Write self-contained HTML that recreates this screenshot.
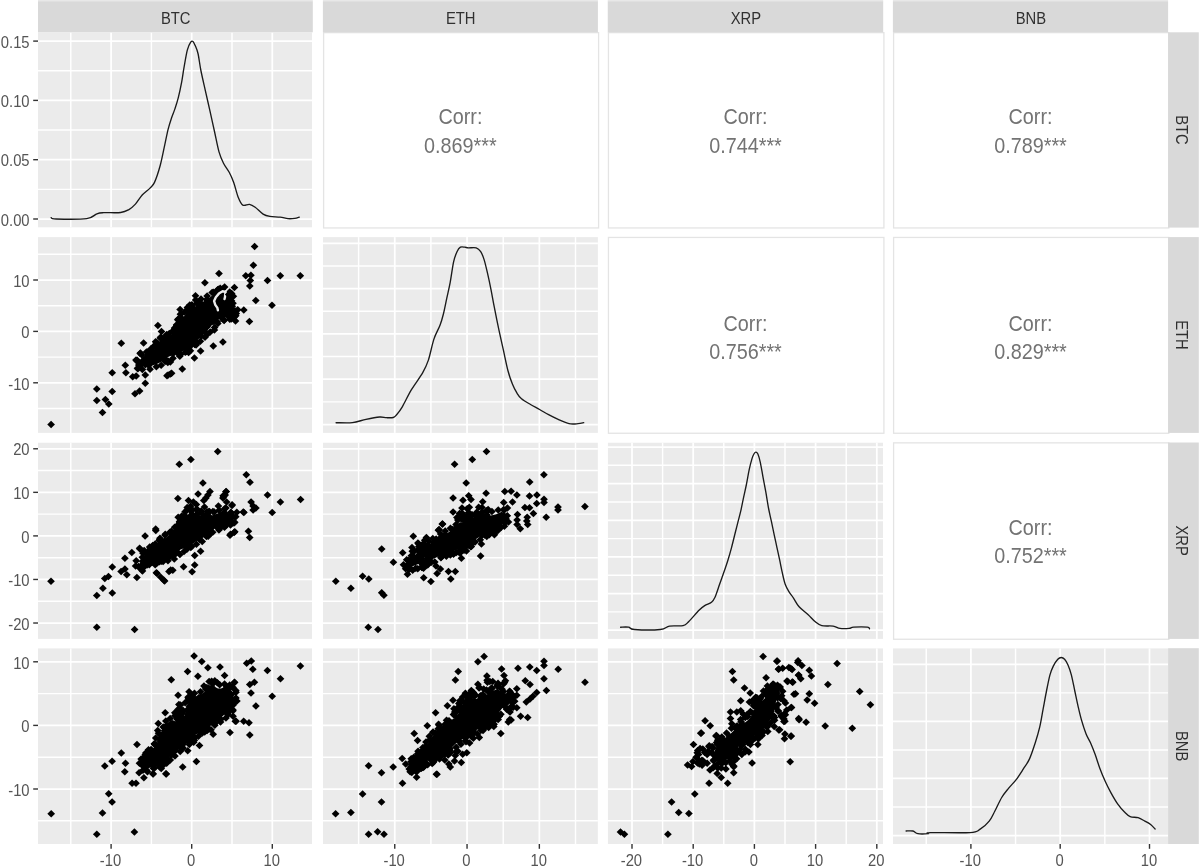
<!DOCTYPE html>
<html><head><meta charset="utf-8"><title>ggpairs</title><style>
html,body{margin:0;padding:0;background:#fff;}
body{width:1200px;height:866px;overflow:hidden;}
svg{display:block;}
#root{will-change:transform;}
.st{font-family:"Liberation Sans",sans-serif;font-size:14.8px;fill:#303030;}
.ax{font-family:"Liberation Sans",sans-serif;font-size:14.8px;fill:#555555;}
.ct{font-family:"Liberation Sans",sans-serif;font-size:19.8px;fill:#737373;}
</style></head><body>
<svg id="root" width="1200" height="866" viewBox="0 0 1200 866" shape-rendering="geometricPrecision">
<rect x="0" y="0" width="1200" height="866" fill="#ffffff"/>
<defs><path id="d" d="M0,-3.75L3.85,0L0,3.75L-3.85,0Z"/></defs>
<svg x="38" y="32.3" width="274" height="195.3" viewBox="38 32.3 274 195.3" overflow="hidden">
<rect x="38" y="32.3" width="274" height="195.3" fill="#ebebeb"/>
<line x1="38" x2="312" y1="189.35" y2="189.35" stroke="#fff" stroke-width="1.45"/>
<line x1="38" x2="312" y1="130.05" y2="130.05" stroke="#fff" stroke-width="1.45"/>
<line x1="38" x2="312" y1="70.75" y2="70.75" stroke="#fff" stroke-width="1.45"/>
<line x1="38" x2="312" y1="219" y2="219" stroke="#fff" stroke-width="1.75"/>
<line x1="38" x2="312" y1="159.7" y2="159.7" stroke="#fff" stroke-width="1.75"/>
<line x1="38" x2="312" y1="100.4" y2="100.4" stroke="#fff" stroke-width="1.75"/>
<line x1="38" x2="312" y1="41.1" y2="41.1" stroke="#fff" stroke-width="1.75"/>
<line x1="70.8" x2="70.8" y1="32.3" y2="227.6" stroke="#fff" stroke-width="1.45"/>
<line x1="151.4" x2="151.4" y1="32.3" y2="227.6" stroke="#fff" stroke-width="1.45"/>
<line x1="232" x2="232" y1="32.3" y2="227.6" stroke="#fff" stroke-width="1.45"/>
<line x1="111.1" x2="111.1" y1="32.3" y2="227.6" stroke="#fff" stroke-width="1.75"/>
<line x1="191.7" x2="191.7" y1="32.3" y2="227.6" stroke="#fff" stroke-width="1.75"/>
<line x1="272.3" x2="272.3" y1="32.3" y2="227.6" stroke="#fff" stroke-width="1.75"/>
<path d="M51.1,217.7 C51.93,217.92 50.17,218.85 56.1,219 C62.03,219.15 79.9,219.47 86.7,218.6 C93.5,217.73 94.07,214.78 96.9,213.8 C99.73,212.82 99.73,212.92 103.7,212.7 C107.67,212.48 116.55,212.98 120.7,212.5 C124.85,212.02 126.15,211.2 128.6,209.8 C131.05,208.4 133.13,206.57 135.4,204.1 C137.67,201.63 139.77,197.67 142.2,195 C144.63,192.33 147.95,190.2 150,188.1 C152.05,186 152.8,186.17 154.5,182.4 C156.2,178.63 158.5,171.72 160.2,165.5 C161.9,159.28 163.38,151.13 164.7,145.1 C166.02,139.07 166.97,133.82 168.1,129.3 C169.23,124.78 170.37,121.4 171.5,118 C172.63,114.6 173.77,112.3 174.9,108.9 C176.03,105.5 177.17,102.12 178.3,97.6 C179.43,93.08 180.77,86.7 181.7,81.8 C182.63,76.9 182.97,73.48 183.9,68.2 C184.83,62.92 186.17,54.43 187.3,50.1 C188.43,45.77 189.75,43.63 190.7,42.2 C191.65,40.77 192.25,40.93 193,41.5 C193.75,42.07 194.37,43.6 195.2,45.6 C196.03,47.6 197.05,49.35 198,53.5 C198.95,57.65 199.67,64.28 200.9,70.5 C202.13,76.72 203.88,84.02 205.4,90.8 C206.92,97.58 208.48,104.42 210,111.2 C211.52,117.98 213,124.72 214.5,131.5 C216,138.28 217.5,146.62 219,151.9 C220.5,157.18 221.8,159.8 223.5,163.2 C225.2,166.6 227.5,169.1 229.2,172.3 C230.9,175.5 232.2,178.25 233.7,182.4 C235.2,186.55 236.68,193.42 238.2,197.2 C239.72,200.98 240.92,203.9 242.8,205.1 C244.68,206.3 247.43,204.03 249.5,204.4 C251.57,204.77 252.93,205.68 255.2,207.3 C257.47,208.92 260.65,212.58 263.1,214.1 C265.55,215.62 267.07,215.9 269.9,216.4 C272.73,216.9 277.08,216.72 280.1,217.1 C283.12,217.48 285.55,218.48 288,218.7 C290.45,218.92 292.92,218.67 294.8,218.4 C296.68,218.13 298.55,217.32 299.3,217.1" fill="none" stroke="#1a1a1a" stroke-width="1.35" stroke-linejoin="round" stroke-linecap="round"/>
</svg>
<rect x="323.6" y="32.65" width="275" height="195.3" fill="#ffffff" stroke="#e4e4e4" stroke-width="1.3"/>
<text transform="translate(460.4,124.4) scale(1,1.08)" class="ct" text-anchor="middle">Corr:</text>
<text transform="translate(460.4,153.1) scale(1,1.08)" class="ct" text-anchor="middle">0.869***</text>
<rect x="608.45" y="32.65" width="275.45" height="195.3" fill="#ffffff" stroke="#e4e4e4" stroke-width="1.3"/>
<text transform="translate(745.48,124.4) scale(1,1.08)" class="ct" text-anchor="middle">Corr:</text>
<text transform="translate(745.48,153.1) scale(1,1.08)" class="ct" text-anchor="middle">0.744***</text>
<rect x="893.6" y="32.65" width="275.2" height="195.3" fill="#ffffff" stroke="#e4e4e4" stroke-width="1.3"/>
<text transform="translate(1030.5,124.4) scale(1,1.08)" class="ct" text-anchor="middle">Corr:</text>
<text transform="translate(1030.5,153.1) scale(1,1.08)" class="ct" text-anchor="middle">0.789***</text>
<svg x="38" y="237.1" width="274" height="195.8" viewBox="38 237.1 274 195.8" overflow="hidden">
<rect x="38" y="237.1" width="274" height="195.8" fill="#ebebeb"/>
<line x1="38" x2="312" y1="408.5" y2="408.5" stroke="#fff" stroke-width="1.45"/>
<line x1="38" x2="312" y1="357.1" y2="357.1" stroke="#fff" stroke-width="1.45"/>
<line x1="38" x2="312" y1="305.7" y2="305.7" stroke="#fff" stroke-width="1.45"/>
<line x1="38" x2="312" y1="254.3" y2="254.3" stroke="#fff" stroke-width="1.45"/>
<line x1="38" x2="312" y1="382.8" y2="382.8" stroke="#fff" stroke-width="1.75"/>
<line x1="38" x2="312" y1="331.4" y2="331.4" stroke="#fff" stroke-width="1.75"/>
<line x1="38" x2="312" y1="280" y2="280" stroke="#fff" stroke-width="1.75"/>
<line x1="70.8" x2="70.8" y1="237.1" y2="432.9" stroke="#fff" stroke-width="1.45"/>
<line x1="151.4" x2="151.4" y1="237.1" y2="432.9" stroke="#fff" stroke-width="1.45"/>
<line x1="232" x2="232" y1="237.1" y2="432.9" stroke="#fff" stroke-width="1.45"/>
<line x1="111.1" x2="111.1" y1="237.1" y2="432.9" stroke="#fff" stroke-width="1.75"/>
<line x1="191.7" x2="191.7" y1="237.1" y2="432.9" stroke="#fff" stroke-width="1.75"/>
<line x1="272.3" x2="272.3" y1="237.1" y2="432.9" stroke="#fff" stroke-width="1.75"/>
<use href="#d" x="177.69" y="319.7"/>
<use href="#d" x="160.22" y="337.97"/>
<use href="#d" x="231.63" y="293.51"/>
<use href="#d" x="156.71" y="342.4"/>
<use href="#d" x="170.35" y="362.07"/>
<use href="#d" x="160.94" y="336.95"/>
<use href="#d" x="168.52" y="361.23"/>
<use href="#d" x="167.81" y="362.49"/>
<use href="#d" x="233.38" y="296.14"/>
<use href="#d" x="187.41" y="307.61"/>
<use href="#d" x="180.41" y="314.26"/>
<path d="M140.76,365.23 L140.8,365.3 L142.61,365.9 L146.61,366.85 L150.9,365.86 L155.77,364.62 L160.51,362.25 L164.3,359.66 L164.43,359.57 L168.63,356.87 L169.21,356.55 L169.82,356.3 L173.92,354.9 L174.37,354.76 L179.01,353.6 L182.3,351.36 L182.35,351.32 L186.55,348.52 L186.99,348.26 L187.45,348.04 L187.94,347.86 L190.76,346.96 L194.01,343.71 L198.21,339.51 L202.31,335.41 L206.51,331.21 L210.23,327.5 L212.72,323.75 L213.05,323.31 L213.41,322.91 L213.81,322.55 L214.25,322.22 L218.45,319.42 L218.87,319.17 L219.31,318.96 L219.76,318.78 L220.23,318.65 L225.69,317.36 L230.95,316.02 L232.8,315.4 L234,313 L234,309.1 L232.16,306.4 L231.78,305.76 L228.98,300.16 L228.78,299.72 L228.63,299.26 L228.51,298.79 L227.43,293.48 L224.9,290.89 L223.19,289.79 L220.59,290.41 L216.02,292.69 L210.94,296.57 L210.57,296.83 L206.44,299.49 L202.4,302.24 L201.92,302.53 L201.41,302.78 L200.88,302.97 L200.34,303.1 L199.78,303.18 L199.22,303.2 L198.66,303.16 L198.1,303.07 L197.59,302.93 L195.75,306.08 L195.48,306.49 L195.18,306.88 L194.84,307.24 L190.64,311.34 L190.23,311.7 L189.78,312.03 L189.3,312.3 L185.19,314.39 L182.12,319.43 L180.92,323.04 L180.75,323.49 L180.54,323.92 L180.29,324.32 L177.59,328.42 L177.26,328.87 L176.89,329.29 L172.69,333.49 L172.09,334.01 L166.91,337.87 L162.99,341.79 L162.68,342.08 L157.94,346.14 L153.29,350.79 L152.84,351.19 L152.35,351.54 L147,354.94 L142.24,358.44 L140.05,361.43 L140.76,365.23Z" fill="#000"/>
<use href="#d" x="194.66" y="344.57"/>
<use href="#d" x="181.07" y="323.12"/>
<use href="#d" x="216.6" y="293.79"/>
<use href="#d" x="173.18" y="353.59"/>
<use href="#d" x="161.51" y="344.39"/>
<use href="#d" x="169.32" y="333.42"/>
<use href="#d" x="232.26" y="306.29"/>
<use href="#d" x="229.77" y="319.18"/>
<use href="#d" x="206.71" y="299.52"/>
<use href="#d" x="174.64" y="327.98"/>
<use href="#d" x="150.9" y="350.45"/>
<use href="#d" x="173.88" y="331.51"/>
<use href="#d" x="155.61" y="347.41"/>
<use href="#d" x="148.73" y="365.4"/>
<use href="#d" x="141.44" y="364.61"/>
<use href="#d" x="185.53" y="348.72"/>
<use href="#d" x="145.34" y="364.67"/>
<use href="#d" x="179.22" y="354.75"/>
<use href="#d" x="234.39" y="316.86"/>
<use href="#d" x="186.47" y="351.56"/>
<use href="#d" x="194.37" y="340.95"/>
<use href="#d" x="224.28" y="320.1"/>
<use href="#d" x="231.45" y="300.64"/>
<use href="#d" x="197.97" y="302.3"/>
<use href="#d" x="217.25" y="321.68"/>
<use href="#d" x="226.43" y="297.24"/>
<use href="#d" x="180.42" y="319.96"/>
<use href="#d" x="207.39" y="300.21"/>
<use href="#d" x="191.97" y="344.25"/>
<use href="#d" x="235.22" y="311.05"/>
<use href="#d" x="181.75" y="318.23"/>
<use href="#d" x="220.23" y="288.37"/>
<use href="#d" x="189.94" y="311.72"/>
<use href="#d" x="176.7" y="325.59"/>
<use href="#d" x="182.87" y="321.31"/>
<use href="#d" x="235.2" y="315.34"/>
<use href="#d" x="201.16" y="336.27"/>
<use href="#d" x="192.5" y="308.69"/>
<use href="#d" x="206.66" y="334.95"/>
<use href="#d" x="229.12" y="300.9"/>
<use href="#d" x="201.43" y="303.75"/>
<use href="#d" x="165.14" y="361.52"/>
<use href="#d" x="146.43" y="352.01"/>
<use href="#d" x="174.56" y="330.9"/>
<use href="#d" x="142.25" y="363.04"/>
<use href="#d" x="148.42" y="354.34"/>
<use href="#d" x="191.22" y="307.8"/>
<use href="#d" x="175.09" y="328.13"/>
<use href="#d" x="212.99" y="321.64"/>
<use href="#d" x="141.11" y="363.26"/>
<use href="#d" x="217.63" y="289.78"/>
<use href="#d" x="228.8" y="302.9"/>
<use href="#d" x="213.31" y="292.37"/>
<use href="#d" x="166.6" y="335.57"/>
<use href="#d" x="180.62" y="354.44"/>
<use href="#d" x="233.37" y="310.33"/>
<use href="#d" x="229" y="316.71"/>
<use href="#d" x="197.15" y="343.3"/>
<use href="#d" x="196.8" y="303.55"/>
<use href="#d" x="162.02" y="343.47"/>
<use href="#d" x="164.76" y="340.39"/>
<use href="#d" x="161.94" y="343.94"/>
<use href="#d" x="222.42" y="318.83"/>
<use href="#d" x="190.49" y="310.48"/>
<use href="#d" x="184.71" y="312.06"/>
<use href="#d" x="228.55" y="315.97"/>
<use href="#d" x="204.69" y="331.13"/>
<use href="#d" x="192.09" y="310.24"/>
<use href="#d" x="165.46" y="359.81"/>
<use href="#d" x="189.03" y="313.46"/>
<use href="#d" x="192.11" y="306.26"/>
<use href="#d" x="161.21" y="343.85"/>
<use href="#d" x="222.45" y="288.94"/>
<use href="#d" x="189.09" y="347.67"/>
<use href="#d" x="178.48" y="351.95"/>
<use href="#d" x="139.32" y="365.29"/>
<use href="#d" x="236.21" y="313.62"/>
<use href="#d" x="175.2" y="332.56"/>
<use href="#d" x="167.84" y="336.92"/>
<use href="#d" x="147.7" y="356.24"/>
<use href="#d" x="180.28" y="327.92"/>
<use href="#d" x="142.36" y="369.43"/>
<use href="#d" x="150.06" y="369.18"/>
<use href="#d" x="156.37" y="366.85"/>
<use href="#d" x="161.18" y="365.33"/>
<use href="#d" x="167.64" y="360.93"/>
<use href="#d" x="172.99" y="358.34"/>
<use href="#d" x="179.8" y="356.33"/>
<use href="#d" x="185.3" y="352.26"/>
<use href="#d" x="190.38" y="350.86"/>
<use href="#d" x="196.07" y="345.01"/>
<use href="#d" x="200.38" y="341.33"/>
<use href="#d" x="204.98" y="337.19"/>
<use href="#d" x="210.24" y="331.98"/>
<use href="#d" x="214.57" y="327.41"/>
<use href="#d" x="217.8" y="323.54"/>
<use href="#d" x="224.05" y="320.47"/>
<use href="#d" x="231.27" y="319.11"/>
<use href="#d" x="235.76" y="315.64"/>
<use href="#d" x="237.71" y="309.79"/>
<use href="#d" x="232.97" y="303.26"/>
<use href="#d" x="231.74" y="297.09"/>
<use href="#d" x="229.74" y="291.92"/>
<use href="#d" x="224.59" y="286.88"/>
<use href="#d" x="218.39" y="289.35"/>
<use href="#d" x="212.12" y="292.6"/>
<use href="#d" x="207.14" y="296.06"/>
<use href="#d" x="201.02" y="298.94"/>
<use href="#d" x="195.64" y="299.88"/>
<use href="#d" x="191.9" y="304.71"/>
<use href="#d" x="187.87" y="309.31"/>
<use href="#d" x="181.49" y="313.47"/>
<use href="#d" x="178.36" y="319.03"/>
<use href="#d" x="176.68" y="324.77"/>
<use href="#d" x="173.23" y="330.42"/>
<use href="#d" x="166.74" y="334.57"/>
<use href="#d" x="163.17" y="339.34"/>
<use href="#d" x="157.86" y="343.71"/>
<use href="#d" x="153.5" y="346.55"/>
<use href="#d" x="148.15" y="351.72"/>
<use href="#d" x="141.84" y="354.98"/>
<use href="#d" x="137.27" y="360.28"/>
<use href="#d" x="138.88" y="364.97"/>
<path d="M225.6,291.9 L222.6,291.3 L218.9,293.6 L215.8,297.2 L214.1,301.1 L215.3,304.8 L217.4,307.9 L217.9,310.3" fill="none" stroke="#ebebeb" stroke-width="2.4" stroke-linejoin="round" stroke-linecap="round"/>
<path d="M225.4,292.6 L225,297 L224.5,299" fill="none" stroke="#ebebeb" stroke-width="2.4" stroke-linejoin="round" stroke-linecap="round"/>
<use href="#d" x="161.5" y="331.5"/>
<use href="#d" x="136" y="360"/>
<use href="#d" x="143.9" y="360"/>
<use href="#d" x="137.5" y="368.3"/>
<use href="#d" x="200.6" y="351"/>
<use href="#d" x="188.6" y="352.5"/>
<use href="#d" x="51.1" y="424.4"/>
<use href="#d" x="96.8" y="388.9"/>
<use href="#d" x="96.8" y="400.6"/>
<use href="#d" x="105.4" y="399.5"/>
<use href="#d" x="108.8" y="404.1"/>
<use href="#d" x="102.5" y="412.6"/>
<use href="#d" x="112.2" y="372.7"/>
<use href="#d" x="112.2" y="391.5"/>
<use href="#d" x="121.3" y="343.2"/>
<use href="#d" x="125.3" y="365.3"/>
<use href="#d" x="125.9" y="372.7"/>
<use href="#d" x="132.7" y="376.7"/>
<use href="#d" x="136.2" y="376.1"/>
<use href="#d" x="140.2" y="353.5"/>
<use href="#d" x="136.7" y="360.7"/>
<use href="#d" x="144.2" y="359.5"/>
<use href="#d" x="137.9" y="368.7"/>
<use href="#d" x="145.3" y="375"/>
<use href="#d" x="145.3" y="383.2"/>
<use href="#d" x="135" y="393.8"/>
<use href="#d" x="139.6" y="391"/>
<use href="#d" x="143.6" y="343"/>
<use href="#d" x="140.4" y="353.1"/>
<use href="#d" x="151" y="348.7"/>
<use href="#d" x="155.6" y="341.8"/>
<use href="#d" x="157.9" y="325.6"/>
<use href="#d" x="168.1" y="375"/>
<use href="#d" x="171.6" y="373.2"/>
<use href="#d" x="167" y="375.8"/>
<use href="#d" x="170.4" y="374"/>
<use href="#d" x="182.3" y="369"/>
<use href="#d" x="194.4" y="358"/>
<use href="#d" x="213.3" y="345.9"/>
<use href="#d" x="222.9" y="342"/>
<use href="#d" x="214.4" y="330"/>
<use href="#d" x="235.5" y="320.9"/>
<use href="#d" x="249.4" y="321.5"/>
<use href="#d" x="243.8" y="310.1"/>
<use href="#d" x="255.8" y="300.4"/>
<use href="#d" x="272" y="305.3"/>
<use href="#d" x="228.7" y="294.6"/>
<use href="#d" x="234.4" y="287.5"/>
<use href="#d" x="204.9" y="282.7"/>
<use href="#d" x="219" y="273.5"/>
<use href="#d" x="195.5" y="295.8"/>
<use href="#d" x="189.8" y="304.9"/>
<use href="#d" x="180.1" y="309.5"/>
<use href="#d" x="245.8" y="275.8"/>
<use href="#d" x="250.9" y="275.2"/>
<use href="#d" x="250.3" y="280.4"/>
<use href="#d" x="249.8" y="285.9"/>
<use href="#d" x="253.4" y="265.2"/>
<use href="#d" x="254.6" y="246.4"/>
<use href="#d" x="267.5" y="280.4"/>
<use href="#d" x="280.3" y="275.8"/>
<use href="#d" x="300.3" y="275.8"/>
</svg>
<svg x="322.9" y="237.1" width="275" height="195.8" viewBox="322.9 237.1 275 195.8" overflow="hidden">
<rect x="322.9" y="237.1" width="275" height="195.8" fill="#ebebeb"/>
<line x1="322.9" x2="597.9" y1="401.85" y2="401.85" stroke="#fff" stroke-width="1.45"/>
<line x1="322.9" x2="597.9" y1="356.55" y2="356.55" stroke="#fff" stroke-width="1.45"/>
<line x1="322.9" x2="597.9" y1="311.25" y2="311.25" stroke="#fff" stroke-width="1.45"/>
<line x1="322.9" x2="597.9" y1="265.95" y2="265.95" stroke="#fff" stroke-width="1.45"/>
<line x1="322.9" x2="597.9" y1="424.5" y2="424.5" stroke="#fff" stroke-width="1.75"/>
<line x1="322.9" x2="597.9" y1="379.2" y2="379.2" stroke="#fff" stroke-width="1.75"/>
<line x1="322.9" x2="597.9" y1="333.9" y2="333.9" stroke="#fff" stroke-width="1.75"/>
<line x1="322.9" x2="597.9" y1="288.6" y2="288.6" stroke="#fff" stroke-width="1.75"/>
<line x1="322.9" x2="597.9" y1="243.3" y2="243.3" stroke="#fff" stroke-width="1.75"/>
<line x1="358.6" x2="358.6" y1="237.1" y2="432.9" stroke="#fff" stroke-width="1.45"/>
<line x1="430.9" x2="430.9" y1="237.1" y2="432.9" stroke="#fff" stroke-width="1.45"/>
<line x1="503.2" x2="503.2" y1="237.1" y2="432.9" stroke="#fff" stroke-width="1.45"/>
<line x1="575.5" x2="575.5" y1="237.1" y2="432.9" stroke="#fff" stroke-width="1.45"/>
<line x1="394.75" x2="394.75" y1="237.1" y2="432.9" stroke="#fff" stroke-width="1.75"/>
<line x1="467.05" x2="467.05" y1="237.1" y2="432.9" stroke="#fff" stroke-width="1.75"/>
<line x1="539.35" x2="539.35" y1="237.1" y2="432.9" stroke="#fff" stroke-width="1.75"/>
<path d="M336.1,422.7 C338.82,422.7 347.42,423.27 352.4,422.7 C357.38,422.13 361.47,420.25 366,419.3 C370.53,418.35 376.2,417.27 379.6,417 C383,416.73 384.13,417.62 386.4,417.7 C388.67,417.78 391.5,417.98 393.2,417.5 C394.9,417.02 395.08,416.58 396.6,414.8 C398.12,413.02 399.85,410.95 402.3,406.8 C404.75,402.65 407.92,395.55 411.3,389.9 C414.68,384.25 419.77,377.82 422.6,372.9 C425.43,367.98 426.4,366.07 428.3,360.4 C430.2,354.73 432.05,344.75 434,338.9 C435.95,333.05 438.43,329.45 440,325.3 C441.57,321.15 442.27,318.53 443.4,314 C444.53,309.47 445.67,303.38 446.8,298.1 C447.93,292.82 449.07,288.33 450.2,282.3 C451.33,276.27 452.47,267 453.6,261.9 C454.73,256.8 455.87,254.15 457,251.7 C458.13,249.25 459.08,247.95 460.4,247.2 C461.72,246.45 463.58,247.08 464.9,247.2 C466.22,247.32 466.42,247.78 468.3,247.9 C470.18,248.02 474.13,247.27 476.2,247.9 C478.27,248.53 479.38,249.75 480.7,251.7 C482.02,253.65 482.97,256.02 484.1,259.6 C485.23,263.18 486.37,268.28 487.5,273.2 C488.63,278.12 489.77,283.43 490.9,289.1 C492.03,294.77 492.97,300.42 494.3,307.2 C495.63,313.98 497.38,322.63 498.9,329.8 C500.42,336.97 501.9,343.42 503.4,350.2 C504.9,356.98 506.4,364.85 507.9,370.5 C509.4,376.15 510.88,380.32 512.4,384.1 C513.92,387.88 515.48,390.75 517,393.2 C518.52,395.65 519.25,396.92 521.5,398.8 C523.75,400.68 527.48,402.72 530.5,404.5 C533.52,406.28 536.58,407.8 539.6,409.5 C542.62,411.2 545.58,413.08 548.6,414.7 C551.62,416.32 554.3,417.7 557.7,419.2 C561.1,420.7 565.6,422.95 569,423.7 C572.4,424.45 575.65,423.88 578.1,423.7 C580.55,423.52 582.77,422.78 583.7,422.6" fill="none" stroke="#1a1a1a" stroke-width="1.35" stroke-linejoin="round" stroke-linecap="round"/>
</svg>
<rect x="608.45" y="237.45" width="275.45" height="195.8" fill="#ffffff" stroke="#e4e4e4" stroke-width="1.3"/>
<text transform="translate(745.48,330.8) scale(1,1.08)" class="ct" text-anchor="middle">Corr:</text>
<text transform="translate(745.48,358.8) scale(1,1.08)" class="ct" text-anchor="middle">0.756***</text>
<rect x="893.6" y="237.45" width="275.2" height="195.8" fill="#ffffff" stroke="#e4e4e4" stroke-width="1.3"/>
<text transform="translate(1030.5,330.8) scale(1,1.08)" class="ct" text-anchor="middle">Corr:</text>
<text transform="translate(1030.5,358.8) scale(1,1.08)" class="ct" text-anchor="middle">0.829***</text>
<svg x="38" y="442.5" width="274" height="196.4" viewBox="38 442.5 274 196.4" overflow="hidden">
<rect x="38" y="442.5" width="274" height="196.4" fill="#ebebeb"/>
<line x1="38" x2="312" y1="601.24" y2="601.24" stroke="#fff" stroke-width="1.45"/>
<line x1="38" x2="312" y1="557.68" y2="557.68" stroke="#fff" stroke-width="1.45"/>
<line x1="38" x2="312" y1="514.12" y2="514.12" stroke="#fff" stroke-width="1.45"/>
<line x1="38" x2="312" y1="470.56" y2="470.56" stroke="#fff" stroke-width="1.45"/>
<line x1="38" x2="312" y1="623.02" y2="623.02" stroke="#fff" stroke-width="1.75"/>
<line x1="38" x2="312" y1="579.46" y2="579.46" stroke="#fff" stroke-width="1.75"/>
<line x1="38" x2="312" y1="535.9" y2="535.9" stroke="#fff" stroke-width="1.75"/>
<line x1="38" x2="312" y1="492.34" y2="492.34" stroke="#fff" stroke-width="1.75"/>
<line x1="38" x2="312" y1="448.78" y2="448.78" stroke="#fff" stroke-width="1.75"/>
<line x1="70.8" x2="70.8" y1="442.5" y2="638.9" stroke="#fff" stroke-width="1.45"/>
<line x1="151.4" x2="151.4" y1="442.5" y2="638.9" stroke="#fff" stroke-width="1.45"/>
<line x1="232" x2="232" y1="442.5" y2="638.9" stroke="#fff" stroke-width="1.45"/>
<line x1="111.1" x2="111.1" y1="442.5" y2="638.9" stroke="#fff" stroke-width="1.75"/>
<line x1="191.7" x2="191.7" y1="442.5" y2="638.9" stroke="#fff" stroke-width="1.75"/>
<line x1="272.3" x2="272.3" y1="442.5" y2="638.9" stroke="#fff" stroke-width="1.75"/>
<use href="#d" x="180.53" y="517.83"/>
<use href="#d" x="196.37" y="504.57"/>
<use href="#d" x="208.25" y="536.33"/>
<use href="#d" x="201.23" y="511.11"/>
<use href="#d" x="209.4" y="511.54"/>
<use href="#d" x="181.82" y="516.01"/>
<use href="#d" x="208.63" y="511.72"/>
<path d="M145.5,554.05 L145.5,561.28 L148.9,562.64 L154.08,561.36 L160.87,559.66 L161.12,559.61 L168.88,558.05 L174.33,555.29 L178.81,550.81 L179.22,550.44 L179.67,550.11 L180.15,549.83 L180.66,549.59 L188.65,546.4 L193.24,543.39 L199.57,538.65 L204.37,533.75 L204.82,533.34 L205.31,532.98 L205.84,532.68 L212.64,529.28 L212.67,529.27 L219.57,525.87 L220.11,525.64 L220.67,525.46 L227.47,523.76 L232.24,522.57 L233.37,520.92 L232.95,517.71 L230.2,514.44 L225.75,511.48 L223.7,510.11 L221.65,511.48 L221,511.85 L217.5,513.55 L216.84,513.82 L211.74,515.52 L211.25,515.66 L210.76,515.75 L210.25,515.79 L209.75,515.79 L209.24,515.75 L208.75,515.66 L208.26,515.52 L204.9,514.4 L201.54,515.52 L201.01,515.67 L200.46,515.76 L199.91,515.8 L199.36,515.78 L198.81,515.71 L198.27,515.58 L197.75,515.4 L197.24,515.17 L196.77,514.89 L196.32,514.56 L195.91,514.19 L192.53,510.81 L191.05,509.36 L189.3,512.8 L188.98,513.35 L185.58,518.45 L185.24,518.9 L180.94,524.1 L176.75,529.2 L176.29,529.69 L175.77,530.12 L169.01,535.12 L164.09,539.27 L157.34,545.22 L156.97,545.52 L150.08,550.61 L145.5,554.05Z" fill="#000"/>
<use href="#d" x="233.96" y="522.97"/>
<use href="#d" x="177.11" y="551.67"/>
<use href="#d" x="197.38" y="514.37"/>
<use href="#d" x="226.09" y="525.28"/>
<use href="#d" x="172.9" y="555.34"/>
<use href="#d" x="197" y="514.62"/>
<use href="#d" x="219.55" y="528.62"/>
<use href="#d" x="180.8" y="524.12"/>
<use href="#d" x="169.14" y="557.14"/>
<use href="#d" x="154.96" y="546.17"/>
<use href="#d" x="151.81" y="551.55"/>
<use href="#d" x="201.11" y="535.68"/>
<use href="#d" x="161.26" y="559.41"/>
<use href="#d" x="171.65" y="554.56"/>
<use href="#d" x="163.15" y="561.56"/>
<use href="#d" x="169.86" y="532.14"/>
<use href="#d" x="177.07" y="531.42"/>
<use href="#d" x="156.76" y="563.29"/>
<use href="#d" x="179.64" y="522.24"/>
<use href="#d" x="152.67" y="545.41"/>
<use href="#d" x="207.01" y="514.19"/>
<use href="#d" x="199.52" y="539.59"/>
<use href="#d" x="184.93" y="521.18"/>
<use href="#d" x="146.55" y="563.35"/>
<use href="#d" x="233.12" y="516.46"/>
<use href="#d" x="231.37" y="523.54"/>
<use href="#d" x="216.98" y="527.35"/>
<use href="#d" x="231.34" y="513.12"/>
<use href="#d" x="191.49" y="546.53"/>
<use href="#d" x="224.32" y="512.52"/>
<use href="#d" x="177.04" y="528.85"/>
<use href="#d" x="224.6" y="508.85"/>
<use href="#d" x="184.57" y="520.41"/>
<use href="#d" x="219.98" y="524.48"/>
<use href="#d" x="214.29" y="512.01"/>
<use href="#d" x="159.78" y="539.96"/>
<use href="#d" x="211.4" y="531.96"/>
<use href="#d" x="159.14" y="540.62"/>
<use href="#d" x="160.06" y="539.26"/>
<use href="#d" x="175.19" y="532.49"/>
<use href="#d" x="211.64" y="527.75"/>
<use href="#d" x="184.93" y="521.14"/>
<use href="#d" x="150.41" y="551.44"/>
<use href="#d" x="232.15" y="516.64"/>
<use href="#d" x="185.69" y="516.44"/>
<use href="#d" x="195.47" y="515.56"/>
<use href="#d" x="146.4" y="553.23"/>
<use href="#d" x="208.27" y="515.38"/>
<use href="#d" x="192.61" y="510.06"/>
<use href="#d" x="175.73" y="553.74"/>
<use href="#d" x="143" y="553.37"/>
<use href="#d" x="162.6" y="557.75"/>
<use href="#d" x="208.08" y="533.68"/>
<use href="#d" x="185.34" y="546.37"/>
<use href="#d" x="144.21" y="562.66"/>
<use href="#d" x="222.74" y="525.96"/>
<use href="#d" x="186.93" y="549.27"/>
<use href="#d" x="188.15" y="518.11"/>
<use href="#d" x="174.74" y="532.54"/>
<use href="#d" x="189.85" y="510.11"/>
<use href="#d" x="210.87" y="533.12"/>
<use href="#d" x="172.41" y="532.89"/>
<use href="#d" x="163.93" y="558.69"/>
<use href="#d" x="160.06" y="540.79"/>
<use href="#d" x="165.04" y="535.23"/>
<use href="#d" x="159.53" y="561.79"/>
<use href="#d" x="203.9" y="533.71"/>
<use href="#d" x="152.32" y="559.94"/>
<use href="#d" x="177.78" y="525.02"/>
<use href="#d" x="226.09" y="523.96"/>
<use href="#d" x="186.31" y="517.53"/>
<use href="#d" x="142.37" y="557.19"/>
<use href="#d" x="142.62" y="564.18"/>
<use href="#d" x="149.26" y="564.76"/>
<use href="#d" x="155.19" y="564.83"/>
<use href="#d" x="161.52" y="561.31"/>
<use href="#d" x="167.96" y="560.84"/>
<use href="#d" x="174.29" y="559.08"/>
<use href="#d" x="179.92" y="554.38"/>
<use href="#d" x="184.02" y="551.6"/>
<use href="#d" x="190.83" y="547.41"/>
<use href="#d" x="196.41" y="544.22"/>
<use href="#d" x="202.23" y="541.45"/>
<use href="#d" x="206.47" y="536.42"/>
<use href="#d" x="212.68" y="532.37"/>
<use href="#d" x="218.95" y="530.01"/>
<use href="#d" x="224.54" y="527.18"/>
<use href="#d" x="230.51" y="525.08"/>
<use href="#d" x="234.76" y="522.17"/>
<use href="#d" x="235.78" y="516.87"/>
<use href="#d" x="230.87" y="512.2"/>
<use href="#d" x="225.97" y="507.98"/>
<use href="#d" x="219.1" y="510.26"/>
<use href="#d" x="212.91" y="511.47"/>
<use href="#d" x="207.08" y="511.69"/>
<use href="#d" x="201.7" y="513.48"/>
<use href="#d" x="196.5" y="509.46"/>
<use href="#d" x="190.48" y="506.2"/>
<use href="#d" x="186.91" y="510.31"/>
<use href="#d" x="184.36" y="515.9"/>
<use href="#d" x="179.57" y="521.52"/>
<use href="#d" x="174.69" y="527.16"/>
<use href="#d" x="171.3" y="531.31"/>
<use href="#d" x="165.29" y="534.25"/>
<use href="#d" x="159.98" y="538.28"/>
<use href="#d" x="155.16" y="544.01"/>
<use href="#d" x="149.65" y="547.1"/>
<use href="#d" x="144.21" y="550.59"/>
<path d="M143.49,565.16 L146.56,562.71 L147.1,562.33 L147.67,562.02 L160,556.26 L161.52,546.14 L161.4,546.3 L161.09,546.68 L160.75,547.03 L160.38,547.34 L151.87,553.96 L143.95,563.63 L143.49,565.16Z" fill="#000"/>
<use href="#d" x="145.07" y="565.68"/>
<use href="#d" x="150.79" y="558.64"/>
<use href="#d" x="148.81" y="554.91"/>
<use href="#d" x="164.5" y="541.24"/>
<use href="#d" x="160.02" y="543.98"/>
<use href="#d" x="153.01" y="557.87"/>
<use href="#d" x="143.62" y="560.2"/>
<use href="#d" x="157.31" y="552.07"/>
<use href="#d" x="153.42" y="559.35"/>
<use href="#d" x="153.72" y="550.28"/>
<use href="#d" x="151.6" y="561.16"/>
<use href="#d" x="160.8" y="547.46"/>
<use href="#d" x="159.1" y="553.97"/>
<use href="#d" x="145.89" y="562.84"/>
<use href="#d" x="144.14" y="566.54"/>
<use href="#d" x="161.94" y="554.11"/>
<use href="#d" x="148.19" y="562.63"/>
<use href="#d" x="146.53" y="557.25"/>
<use href="#d" x="142.46" y="571.12"/>
<use href="#d" x="147.04" y="565.08"/>
<use href="#d" x="152.11" y="562.14"/>
<use href="#d" x="159.67" y="559.14"/>
<use href="#d" x="162.46" y="554.53"/>
<use href="#d" x="163.55" y="548.57"/>
<use href="#d" x="164.16" y="541.79"/>
<use href="#d" x="161.57" y="541.44"/>
<use href="#d" x="156.74" y="547.56"/>
<use href="#d" x="150.54" y="551.11"/>
<use href="#d" x="147.36" y="555.08"/>
<use href="#d" x="142.75" y="561.56"/>
<use href="#d" x="139.28" y="567.54"/>
<use href="#d" x="207.9" y="495.1"/>
<use href="#d" x="205.9" y="497.9"/>
<use href="#d" x="203.8" y="500.6"/>
<use href="#d" x="204.5" y="506.9"/>
<use href="#d" x="188.5" y="500.6"/>
<use href="#d" x="193.4" y="502"/>
<use href="#d" x="196.9" y="508.9"/>
<use href="#d" x="187.2" y="507.5"/>
<use href="#d" x="178.2" y="517.2"/>
<use href="#d" x="185.1" y="511.7"/>
<use href="#d" x="139.6" y="548.2"/>
<use href="#d" x="143" y="551.6"/>
<use href="#d" x="149.9" y="549.3"/>
<use href="#d" x="136.2" y="560.7"/>
<use href="#d" x="138.5" y="566.4"/>
<use href="#d" x="141.9" y="569.9"/>
<use href="#d" x="225.2" y="495"/>
<use href="#d" x="222.9" y="497.9"/>
<use href="#d" x="232.1" y="504.8"/>
<use href="#d" x="218.4" y="505.9"/>
<use href="#d" x="51" y="581.3"/>
<use href="#d" x="96.8" y="627.2"/>
<use href="#d" x="134.6" y="629.5"/>
<use href="#d" x="96.8" y="595.5"/>
<use href="#d" x="102.9" y="588.3"/>
<use href="#d" x="112.3" y="593"/>
<use href="#d" x="104.8" y="578.5"/>
<use href="#d" x="108.5" y="576.6"/>
<use href="#d" x="112.3" y="566.9"/>
<use href="#d" x="124.9" y="558.3"/>
<use href="#d" x="131.8" y="552.4"/>
<use href="#d" x="145.1" y="536"/>
<use href="#d" x="155.8" y="530.6"/>
<use href="#d" x="121.1" y="571.6"/>
<use href="#d" x="124.9" y="569"/>
<use href="#d" x="126.8" y="574.7"/>
<use href="#d" x="136.9" y="577.6"/>
<use href="#d" x="135.6" y="565.9"/>
<use href="#d" x="140" y="548.9"/>
<use href="#d" x="156.4" y="572.8"/>
<use href="#d" x="160.8" y="577.2"/>
<use href="#d" x="164.6" y="581"/>
<use href="#d" x="169" y="571.6"/>
<use href="#d" x="172.8" y="570.3"/>
<use href="#d" x="217.7" y="451.4"/>
<use href="#d" x="190.9" y="459.6"/>
<use href="#d" x="179.3" y="464.2"/>
<use href="#d" x="202.9" y="483"/>
<use href="#d" x="210" y="491.5"/>
<use href="#d" x="226.2" y="491.5"/>
<use href="#d" x="198.1" y="494.1"/>
<use href="#d" x="177.9" y="498.4"/>
<use href="#d" x="223.7" y="496.7"/>
<use href="#d" x="246.3" y="474.7"/>
<use href="#d" x="250" y="482.2"/>
<use href="#d" x="243.3" y="512"/>
<use href="#d" x="155.7" y="529.1"/>
<use href="#d" x="183.6" y="566.7"/>
<use href="#d" x="192.1" y="571.8"/>
<use href="#d" x="194.7" y="565"/>
<use href="#d" x="194.7" y="555.6"/>
<use href="#d" x="200.6" y="551.3"/>
<use href="#d" x="230.5" y="534.2"/>
<use href="#d" x="234.8" y="531.7"/>
<use href="#d" x="248.4" y="531.2"/>
<use href="#d" x="249.7" y="537.4"/>
<use href="#d" x="157.1" y="573.5"/>
<use href="#d" x="163.9" y="580.3"/>
<use href="#d" x="170.7" y="570.1"/>
<use href="#d" x="225.9" y="491.7"/>
<use href="#d" x="223.2" y="495.8"/>
<use href="#d" x="267.5" y="495.1"/>
<use href="#d" x="280.4" y="502"/>
<use href="#d" x="300.6" y="499.6"/>
<use href="#d" x="251.1" y="502"/>
<use href="#d" x="253.1" y="506"/>
<use href="#d" x="255.9" y="508.1"/>
<use href="#d" x="253.1" y="510.1"/>
<use href="#d" x="272.2" y="512.6"/>
<use href="#d" x="243.9" y="512.6"/>
<use href="#d" x="226.6" y="502"/>
<use href="#d" x="232" y="505.4"/>
<use href="#d" x="236.8" y="512.2"/>
<use href="#d" x="230" y="535.3"/>
<use href="#d" x="234.1" y="532.6"/>
</svg>
<svg x="322.9" y="442.5" width="275" height="196.4" viewBox="322.9 442.5 275 196.4" overflow="hidden">
<rect x="322.9" y="442.5" width="275" height="196.4" fill="#ebebeb"/>
<line x1="322.9" x2="597.9" y1="601.24" y2="601.24" stroke="#fff" stroke-width="1.45"/>
<line x1="322.9" x2="597.9" y1="557.68" y2="557.68" stroke="#fff" stroke-width="1.45"/>
<line x1="322.9" x2="597.9" y1="514.12" y2="514.12" stroke="#fff" stroke-width="1.45"/>
<line x1="322.9" x2="597.9" y1="470.56" y2="470.56" stroke="#fff" stroke-width="1.45"/>
<line x1="322.9" x2="597.9" y1="623.02" y2="623.02" stroke="#fff" stroke-width="1.75"/>
<line x1="322.9" x2="597.9" y1="579.46" y2="579.46" stroke="#fff" stroke-width="1.75"/>
<line x1="322.9" x2="597.9" y1="535.9" y2="535.9" stroke="#fff" stroke-width="1.75"/>
<line x1="322.9" x2="597.9" y1="492.34" y2="492.34" stroke="#fff" stroke-width="1.75"/>
<line x1="322.9" x2="597.9" y1="448.78" y2="448.78" stroke="#fff" stroke-width="1.75"/>
<line x1="358.6" x2="358.6" y1="442.5" y2="638.9" stroke="#fff" stroke-width="1.45"/>
<line x1="430.9" x2="430.9" y1="442.5" y2="638.9" stroke="#fff" stroke-width="1.45"/>
<line x1="503.2" x2="503.2" y1="442.5" y2="638.9" stroke="#fff" stroke-width="1.45"/>
<line x1="575.5" x2="575.5" y1="442.5" y2="638.9" stroke="#fff" stroke-width="1.45"/>
<line x1="394.75" x2="394.75" y1="442.5" y2="638.9" stroke="#fff" stroke-width="1.75"/>
<line x1="467.05" x2="467.05" y1="442.5" y2="638.9" stroke="#fff" stroke-width="1.75"/>
<line x1="539.35" x2="539.35" y1="442.5" y2="638.9" stroke="#fff" stroke-width="1.75"/>
<use href="#d" x="456.94" y="517.45"/>
<use href="#d" x="412.65" y="570.14"/>
<use href="#d" x="457.84" y="519.96"/>
<use href="#d" x="432.81" y="538.53"/>
<use href="#d" x="417.75" y="568.63"/>
<use href="#d" x="459.59" y="513.42"/>
<use href="#d" x="488.15" y="509.62"/>
<use href="#d" x="405.64" y="568.64"/>
<use href="#d" x="412.28" y="551.16"/>
<path d="M425.5,547.4 L425.5,561.66 L427.89,561.06 L435.23,558.08 L441.44,554.98 L441.89,554.78 L442.35,554.62 L442.82,554.51 L450.08,553.05 L455.71,550.2 L456.31,549.93 L456.94,549.75 L462.94,548.34 L468.97,545.93 L471.22,542.55 L471.58,542.07 L471.99,541.63 L472.45,541.24 L472.94,540.9 L480.84,536.1 L481.33,535.84 L481.84,535.62 L482.37,535.46 L488.18,534.01 L493.6,531.3 L499.29,527.03 L504.68,521.64 L505.61,519.79 L504.14,515.87 L502.16,511.78 L501.72,511.64 L497.36,513.82 L496.81,514.06 L496.23,514.24 L489.83,515.84 L489.28,515.94 L488.71,516 L488.15,515.99 L487.58,515.92 L487.03,515.8 L486.49,515.62 L485.98,515.39 L485.49,515.1 L485.03,514.77 L484.61,514.39 L481.35,511.13 L481.29,511.19 L476.49,515.99 L476.08,516.36 L475.63,516.69 L475.16,516.97 L474.65,517.2 L474.13,517.38 L473.59,517.51 L473.04,517.58 L472.49,517.6 L471.93,517.56 L471.39,517.46 L470.86,517.32 L470.34,517.11 L469.85,516.86 L469.38,516.56 L468.95,516.21 L468.55,515.83 L468.2,515.4 L466.09,512.58 L464.9,514.36 L463.54,519.83 L463.36,520.39 L463.14,520.93 L462.85,521.44 L462.51,521.91 L462.13,522.35 L457.43,527.15 L456.98,527.56 L456.49,527.92 L455.96,528.22 L449.98,531.21 L443.98,535.62 L437.6,540.4 L437.16,540.7 L429.26,545.5 L428.86,545.72 L425.5,547.4Z" fill="#000"/>
<use href="#d" x="503.69" y="509.44"/>
<use href="#d" x="487.05" y="515.08"/>
<use href="#d" x="470.33" y="514.3"/>
<use href="#d" x="444.76" y="554.04"/>
<use href="#d" x="458.26" y="551.94"/>
<use href="#d" x="482.02" y="535.31"/>
<use href="#d" x="429.73" y="560.33"/>
<use href="#d" x="482.41" y="512.5"/>
<use href="#d" x="481.22" y="513.06"/>
<use href="#d" x="462.88" y="515.47"/>
<use href="#d" x="442.76" y="555.16"/>
<use href="#d" x="470.17" y="514.56"/>
<use href="#d" x="469.44" y="514.74"/>
<use href="#d" x="450.31" y="554.96"/>
<use href="#d" x="450.92" y="554.04"/>
<use href="#d" x="463.93" y="515.6"/>
<use href="#d" x="462.28" y="516.23"/>
<use href="#d" x="431.38" y="562.32"/>
<use href="#d" x="472.59" y="543.17"/>
<use href="#d" x="464.09" y="550.2"/>
<use href="#d" x="469.79" y="513.73"/>
<use href="#d" x="476.01" y="518.7"/>
<use href="#d" x="444.81" y="535.54"/>
<use href="#d" x="476.07" y="514.9"/>
<use href="#d" x="443.54" y="538.01"/>
<use href="#d" x="456.84" y="526.86"/>
<use href="#d" x="423.9" y="563.21"/>
<use href="#d" x="429.1" y="546.67"/>
<use href="#d" x="450.99" y="552.41"/>
<use href="#d" x="440.66" y="539.14"/>
<use href="#d" x="457.74" y="528.07"/>
<use href="#d" x="441.96" y="538.21"/>
<use href="#d" x="441.44" y="556.92"/>
<use href="#d" x="432.38" y="545.38"/>
<use href="#d" x="504.83" y="523.01"/>
<use href="#d" x="493.21" y="532.58"/>
<use href="#d" x="492.79" y="531.83"/>
<use href="#d" x="471.3" y="546.59"/>
<use href="#d" x="445.66" y="534.71"/>
<use href="#d" x="496.74" y="529.83"/>
<use href="#d" x="460.73" y="548.81"/>
<use href="#d" x="460.08" y="525.86"/>
<use href="#d" x="440.97" y="537.23"/>
<use href="#d" x="465.35" y="520.13"/>
<use href="#d" x="425.95" y="549.09"/>
<use href="#d" x="468.39" y="545.33"/>
<use href="#d" x="456.34" y="528.82"/>
<use href="#d" x="456.23" y="552.6"/>
<use href="#d" x="430.35" y="546.94"/>
<use href="#d" x="423.51" y="554.37"/>
<use href="#d" x="426.06" y="554.93"/>
<use href="#d" x="433.87" y="542.38"/>
<use href="#d" x="463.57" y="519.61"/>
<use href="#d" x="489.28" y="534.78"/>
<use href="#d" x="463.63" y="517.52"/>
<use href="#d" x="465.56" y="518.74"/>
<use href="#d" x="468.54" y="512.81"/>
<use href="#d" x="505.83" y="518.5"/>
<use href="#d" x="466.43" y="545.89"/>
<use href="#d" x="472.13" y="515.02"/>
<use href="#d" x="501.3" y="527.21"/>
<use href="#d" x="477.33" y="516.81"/>
<use href="#d" x="452.3" y="529.38"/>
<use href="#d" x="460.97" y="525.92"/>
<use href="#d" x="496.74" y="530.9"/>
<use href="#d" x="484.51" y="535.06"/>
<use href="#d" x="459.21" y="527.95"/>
<use href="#d" x="503.67" y="515.3"/>
<use href="#d" x="422.87" y="551.94"/>
<use href="#d" x="421.79" y="558.38"/>
<use href="#d" x="422.35" y="564.72"/>
<use href="#d" x="427.91" y="564.75"/>
<use href="#d" x="434.78" y="562.12"/>
<use href="#d" x="440.91" y="557.84"/>
<use href="#d" x="446.33" y="556.14"/>
<use href="#d" x="453.55" y="554.3"/>
<use href="#d" x="460.07" y="552.9"/>
<use href="#d" x="466.46" y="551.04"/>
<use href="#d" x="470.72" y="546.66"/>
<use href="#d" x="475.1" y="542.01"/>
<use href="#d" x="480.26" y="539.77"/>
<use href="#d" x="486.77" y="536.55"/>
<use href="#d" x="494.41" y="534.63"/>
<use href="#d" x="498.12" y="530.36"/>
<use href="#d" x="504.41" y="526.32"/>
<use href="#d" x="508.46" y="522.01"/>
<use href="#d" x="507.31" y="515.74"/>
<use href="#d" x="504.04" y="510.34"/>
<use href="#d" x="498.26" y="509.98"/>
<use href="#d" x="491.92" y="511.6"/>
<use href="#d" x="486.49" y="510.83"/>
<use href="#d" x="482.03" y="507.44"/>
<use href="#d" x="476.72" y="512.35"/>
<use href="#d" x="472.24" y="515.05"/>
<use href="#d" x="467.15" y="508.67"/>
<use href="#d" x="461.98" y="512.94"/>
<use href="#d" x="461.56" y="519.13"/>
<use href="#d" x="456.02" y="524.4"/>
<use href="#d" x="450.46" y="528.13"/>
<use href="#d" x="445.22" y="530.88"/>
<use href="#d" x="440.64" y="534.1"/>
<use href="#d" x="436.14" y="538.97"/>
<use href="#d" x="428.79" y="541.19"/>
<use href="#d" x="422.9" y="544.69"/>
<path d="M406.69,564.21 L408.22,565.75 L411.81,566.48 L417.2,564.38 L417.68,564.21 L418.18,564.1 L418.69,564.02 L419.2,564 L419.71,564.02 L420.22,564.1 L420.72,564.21 L421.2,564.38 L424.5,565.67 L424.5,544.42 L421.61,546.13 L415.49,554.78 L415.17,555.19 L414.82,555.56 L414.43,555.9 L408.48,560.64 L406.69,564.21Z" fill="#000"/>
<use href="#d" x="423.43" y="548.83"/>
<use href="#d" x="422.02" y="567.39"/>
<use href="#d" x="418.74" y="550.64"/>
<use href="#d" x="409.39" y="565.31"/>
<use href="#d" x="426.77" y="561.21"/>
<use href="#d" x="421.76" y="567.18"/>
<use href="#d" x="420.02" y="549.88"/>
<use href="#d" x="413.14" y="555.91"/>
<use href="#d" x="405.95" y="566.51"/>
<use href="#d" x="412.07" y="559.19"/>
<use href="#d" x="422.4" y="567.02"/>
<use href="#d" x="418.92" y="546.44"/>
<use href="#d" x="408.77" y="560.25"/>
<use href="#d" x="409.81" y="568.1"/>
<use href="#d" x="425.12" y="545.11"/>
<use href="#d" x="424.53" y="546.95"/>
<use href="#d" x="422.4" y="544.45"/>
<use href="#d" x="421.8" y="546.82"/>
<use href="#d" x="408.59" y="563.88"/>
<use href="#d" x="423.98" y="549.17"/>
<use href="#d" x="407.2" y="566.7"/>
<use href="#d" x="417.73" y="550.06"/>
<use href="#d" x="403.48" y="564.68"/>
<use href="#d" x="409.19" y="569.59"/>
<use href="#d" x="415.76" y="568.34"/>
<use href="#d" x="423.52" y="568.24"/>
<use href="#d" x="427" y="565.09"/>
<use href="#d" x="427.25" y="558.98"/>
<use href="#d" x="426.71" y="551.64"/>
<use href="#d" x="428.02" y="544.89"/>
<use href="#d" x="424.73" y="540.32"/>
<use href="#d" x="418.53" y="543.82"/>
<use href="#d" x="414.57" y="550.98"/>
<use href="#d" x="411.36" y="555.65"/>
<use href="#d" x="406.71" y="559.78"/>
<use href="#d" x="468.7" y="495.7"/>
<use href="#d" x="482.7" y="501.7"/>
<use href="#d" x="478.7" y="507.3"/>
<use href="#d" x="488" y="510.7"/>
<use href="#d" x="462" y="508"/>
<use href="#d" x="469.3" y="507.3"/>
<use href="#d" x="417.9" y="543.1"/>
<use href="#d" x="440.4" y="569"/>
<use href="#d" x="436" y="566"/>
<use href="#d" x="335.8" y="581.2"/>
<use href="#d" x="350.9" y="588.3"/>
<use href="#d" x="362.6" y="576.3"/>
<use href="#d" x="368.8" y="579.1"/>
<use href="#d" x="381.7" y="592.8"/>
<use href="#d" x="383.9" y="595.3"/>
<use href="#d" x="368.3" y="627.2"/>
<use href="#d" x="378" y="629.5"/>
<use href="#d" x="381.7" y="549.1"/>
<use href="#d" x="393.4" y="562.3"/>
<use href="#d" x="402.7" y="552.7"/>
<use href="#d" x="413.3" y="536.2"/>
<use href="#d" x="412" y="547.5"/>
<use href="#d" x="407.5" y="574.3"/>
<use href="#d" x="423.7" y="577.7"/>
<use href="#d" x="430.9" y="581.4"/>
<use href="#d" x="437.1" y="573.6"/>
<use href="#d" x="448.5" y="571.5"/>
<use href="#d" x="455.3" y="571.5"/>
<use href="#d" x="450.8" y="579.1"/>
<use href="#d" x="442.6" y="524.1"/>
<use href="#d" x="438.4" y="530.3"/>
<use href="#d" x="486.5" y="451.6"/>
<use href="#d" x="472.3" y="459.5"/>
<use href="#d" x="454.6" y="464.3"/>
<use href="#d" x="466.2" y="483.1"/>
<use href="#d" x="453.1" y="498.1"/>
<use href="#d" x="486.1" y="493.3"/>
<use href="#d" x="453.1" y="512.1"/>
<use href="#d" x="463" y="500.2"/>
<use href="#d" x="471" y="499.4"/>
<use href="#d" x="442.3" y="524.1"/>
<use href="#d" x="439.1" y="529.6"/>
<use href="#d" x="426.4" y="537.6"/>
<use href="#d" x="481.4" y="544"/>
<use href="#d" x="480.6" y="556"/>
<use href="#d" x="461.4" y="558.3"/>
<use href="#d" x="543.9" y="474.8"/>
<use href="#d" x="529.7" y="482"/>
<use href="#d" x="504.8" y="491.4"/>
<use href="#d" x="511.1" y="491.2"/>
<use href="#d" x="516.9" y="494.9"/>
<use href="#d" x="529.5" y="496"/>
<use href="#d" x="536.9" y="494.9"/>
<use href="#d" x="544" y="499.2"/>
<use href="#d" x="544" y="502.5"/>
<use href="#d" x="536.7" y="503.4"/>
<use href="#d" x="512.5" y="502"/>
<use href="#d" x="524.9" y="507.6"/>
<use href="#d" x="529.5" y="507.8"/>
<use href="#d" x="533.4" y="513.6"/>
<use href="#d" x="558" y="507.1"/>
<use href="#d" x="558" y="509.9"/>
<use href="#d" x="584.9" y="506.6"/>
<use href="#d" x="546.2" y="517.2"/>
<use href="#d" x="517.5" y="514.5"/>
<use href="#d" x="517.1" y="520"/>
<use href="#d" x="517.1" y="524.6"/>
<use href="#d" x="520.3" y="528.8"/>
<use href="#d" x="527.2" y="517.2"/>
<use href="#d" x="526.8" y="520.9"/>
<use href="#d" x="527.7" y="524.6"/>
<use href="#d" x="503.7" y="502.5"/>
<use href="#d" x="507.4" y="508"/>
</svg>
<svg x="607.75" y="442.5" width="275.45" height="196.4" viewBox="607.75 442.5 275.45 196.4" overflow="hidden">
<rect x="607.75" y="442.5" width="275.45" height="196.4" fill="#ebebeb"/>
<line x1="607.75" x2="883.2" y1="611.88" y2="611.88" stroke="#fff" stroke-width="1.45"/>
<line x1="607.75" x2="883.2" y1="575.24" y2="575.24" stroke="#fff" stroke-width="1.45"/>
<line x1="607.75" x2="883.2" y1="538.6" y2="538.6" stroke="#fff" stroke-width="1.45"/>
<line x1="607.75" x2="883.2" y1="501.96" y2="501.96" stroke="#fff" stroke-width="1.45"/>
<line x1="607.75" x2="883.2" y1="465.32" y2="465.32" stroke="#fff" stroke-width="1.45"/>
<line x1="607.75" x2="883.2" y1="630.2" y2="630.2" stroke="#fff" stroke-width="1.75"/>
<line x1="607.75" x2="883.2" y1="593.56" y2="593.56" stroke="#fff" stroke-width="1.75"/>
<line x1="607.75" x2="883.2" y1="556.92" y2="556.92" stroke="#fff" stroke-width="1.75"/>
<line x1="607.75" x2="883.2" y1="520.28" y2="520.28" stroke="#fff" stroke-width="1.75"/>
<line x1="607.75" x2="883.2" y1="483.64" y2="483.64" stroke="#fff" stroke-width="1.75"/>
<line x1="607.75" x2="883.2" y1="447" y2="447" stroke="#fff" stroke-width="1.75"/>
<line x1="662.6" x2="662.6" y1="442.5" y2="638.9" stroke="#fff" stroke-width="1.45"/>
<line x1="723.8" x2="723.8" y1="442.5" y2="638.9" stroke="#fff" stroke-width="1.45"/>
<line x1="785" x2="785" y1="442.5" y2="638.9" stroke="#fff" stroke-width="1.45"/>
<line x1="846.2" x2="846.2" y1="442.5" y2="638.9" stroke="#fff" stroke-width="1.45"/>
<line x1="632" x2="632" y1="442.5" y2="638.9" stroke="#fff" stroke-width="1.75"/>
<line x1="693.2" x2="693.2" y1="442.5" y2="638.9" stroke="#fff" stroke-width="1.75"/>
<line x1="754.4" x2="754.4" y1="442.5" y2="638.9" stroke="#fff" stroke-width="1.75"/>
<line x1="815.6" x2="815.6" y1="442.5" y2="638.9" stroke="#fff" stroke-width="1.75"/>
<line x1="876.8" x2="876.8" y1="442.5" y2="638.9" stroke="#fff" stroke-width="1.75"/>
<path d="M620.6,627.2 C621.93,627.2 626.32,626.82 628.6,627.2 C630.88,627.58 629,629.12 634.3,629.5 C639.6,629.88 654.53,630.07 660.4,629.5 C666.27,628.93 665.72,626.75 669.5,626.1 C673.28,625.45 679.88,626.37 683.1,625.6 C686.32,624.83 686.15,624.07 688.8,621.5 C691.45,618.93 696.35,612.85 699,610.2 C701.65,607.55 702.62,606.93 704.7,605.6 C706.78,604.27 709.78,603.6 711.5,602.2 C713.22,600.8 713.65,600.18 715,597.2 C716.35,594.22 718.07,588.62 719.6,584.3 C721.13,579.98 722.82,575.32 724.2,571.3 C725.58,567.28 726.67,564.2 727.9,560.2 C729.13,556.2 730.37,551.92 731.6,547.3 C732.83,542.68 734.22,536.82 735.3,532.5 C736.38,528.18 737.17,525.08 738.1,521.4 C739.03,517.72 739.98,514.4 740.9,510.4 C741.82,506.4 742.68,501.72 743.6,497.4 C744.52,493.08 745.47,489.12 746.4,484.5 C747.33,479.88 748.27,474.02 749.2,469.7 C750.13,465.38 751.17,461.3 752,458.6 C752.83,455.9 753.53,454.57 754.2,453.5 C754.87,452.43 755.38,452.12 756,452.2 C756.62,452.28 757.18,452.32 757.9,454 C758.62,455.68 759.45,458.45 760.3,462.3 C761.15,466.15 762.08,472.17 763,477.1 C763.92,482.03 764.87,486.67 765.8,491.9 C766.73,497.13 767.67,503.58 768.6,508.5 C769.53,513.42 770.48,517.08 771.4,521.4 C772.32,525.72 773.18,530.08 774.1,534.4 C775.02,538.72 775.97,543 776.9,547.3 C777.83,551.6 778.78,555.88 779.7,560.2 C780.62,564.52 781.48,569.18 782.4,573.2 C783.32,577.22 784.12,581.22 785.2,584.3 C786.28,587.38 787.52,589.4 788.9,591.7 C790.28,594 791.8,595.58 793.5,598.1 C795.2,600.62 796.65,604.03 799.1,606.8 C801.55,609.57 805.55,612.25 808.2,614.7 C810.85,617.15 812.73,619.68 815,621.5 C817.27,623.32 818.77,624.83 821.8,625.6 C824.83,626.37 830.17,625.63 833.2,626.1 C836.23,626.57 837.35,628.02 840,628.4 C842.65,628.78 846.83,628.6 849.1,628.4 C851.37,628.2 850.57,627.4 853.6,627.2 C856.63,627 864.65,626.93 867.3,627.2 C869.95,627.47 869.13,628.53 869.5,628.8" fill="none" stroke="#1a1a1a" stroke-width="1.35" stroke-linejoin="round" stroke-linecap="round"/>
</svg>
<rect x="893.6" y="442.85" width="275.2" height="196.4" fill="#ffffff" stroke="#e4e4e4" stroke-width="1.3"/>
<text transform="translate(1030.5,534.8) scale(1,1.08)" class="ct" text-anchor="middle">Corr:</text>
<text transform="translate(1030.5,563.2) scale(1,1.08)" class="ct" text-anchor="middle">0.752***</text>
<svg x="38" y="648.2" width="274" height="195.8" viewBox="38 648.2 274 195.8" overflow="hidden">
<rect x="38" y="648.2" width="274" height="195.8" fill="#ebebeb"/>
<line x1="38" x2="312" y1="820.8" y2="820.8" stroke="#fff" stroke-width="1.45"/>
<line x1="38" x2="312" y1="757.2" y2="757.2" stroke="#fff" stroke-width="1.45"/>
<line x1="38" x2="312" y1="693.6" y2="693.6" stroke="#fff" stroke-width="1.45"/>
<line x1="38" x2="312" y1="789" y2="789" stroke="#fff" stroke-width="1.75"/>
<line x1="38" x2="312" y1="725.4" y2="725.4" stroke="#fff" stroke-width="1.75"/>
<line x1="38" x2="312" y1="661.8" y2="661.8" stroke="#fff" stroke-width="1.75"/>
<line x1="70.8" x2="70.8" y1="648.2" y2="844" stroke="#fff" stroke-width="1.45"/>
<line x1="151.4" x2="151.4" y1="648.2" y2="844" stroke="#fff" stroke-width="1.45"/>
<line x1="232" x2="232" y1="648.2" y2="844" stroke="#fff" stroke-width="1.45"/>
<line x1="111.1" x2="111.1" y1="648.2" y2="844" stroke="#fff" stroke-width="1.75"/>
<line x1="191.7" x2="191.7" y1="648.2" y2="844" stroke="#fff" stroke-width="1.75"/>
<line x1="272.3" x2="272.3" y1="648.2" y2="844" stroke="#fff" stroke-width="1.75"/>
<use href="#d" x="232.89" y="687.36"/>
<use href="#d" x="193.7" y="742.31"/>
<use href="#d" x="176.04" y="713.13"/>
<use href="#d" x="179.72" y="714.54"/>
<use href="#d" x="180.47" y="704.99"/>
<use href="#d" x="178.2" y="709.28"/>
<use href="#d" x="217.41" y="682.72"/>
<use href="#d" x="174.92" y="715.83"/>
<use href="#d" x="174.86" y="712.79"/>
<use href="#d" x="180.03" y="716.88"/>
<use href="#d" x="229.69" y="685.07"/>
<use href="#d" x="180.55" y="709.62"/>
<path d="M145.5,756.3 L145.5,769.1 L146.52,769.1 L153.12,766.41 L153.63,766.23 L154.15,766.1 L160.52,764.86 L166.82,759.8 L172.71,753.91 L173.1,753.56 L173.53,753.24 L178.13,750.14 L178.59,749.86 L179.09,749.62 L179.6,749.44 L180.14,749.3 L184.57,748.43 L185.07,746.89 L185.22,746.5 L185.4,746.11 L188.5,740.01 L188.75,739.56 L189.05,739.13 L189.39,738.74 L189.76,738.38 L190.16,738.05 L190.6,737.77 L198.17,733.28 L213.11,724.24 L218.71,720.02 L223.05,715.77 L223.45,715.42 L223.88,715.1 L224.34,714.83 L224.82,714.61 L225.33,714.43 L225.84,714.3 L226.37,714.23 L226.9,714.2 L230.72,714.2 L231.52,713.4 L230.76,710.31 L230.66,709.79 L230.61,709.27 L230.61,708.73 L230.66,708.21 L230.76,707.69 L233.47,696.67 L232.72,692.89 L229.01,691 L228.59,690.77 L228.19,690.49 L224.22,687.5 L220.7,688.42 L220.17,688.53 L219.63,688.59 L219.09,688.6 L218.55,688.55 L218.02,688.45 L217.5,688.3 L216.99,688.09 L216.52,687.84 L216.06,687.55 L215.64,687.21 L215.26,686.83 L214.91,686.41 L212.67,683.45 L208.06,686.93 L205.58,690.65 L205.26,691.08 L204.9,691.48 L204.5,691.84 L204.07,692.16 L199.47,695.26 L199.03,695.53 L198.55,695.76 L198.06,695.94 L197.56,696.08 L197.04,696.16 L196.52,696.2 L195.99,696.18 L195.47,696.12 L194.96,696.01 L194.46,695.85 L193.98,695.64 L193.52,695.39 L193.09,695.09 L191.51,693.9 L189.45,699.93 L186.5,710.48 L186.29,711.08 L183.19,718.68 L182.97,719.16 L182.7,719.62 L182.39,720.04 L182.04,720.44 L181.65,720.8 L181.23,721.13 L180.78,721.41 L180.3,721.64 L179.8,721.83 L179.29,721.97 L178.77,722.06 L178.24,722.1 L177.71,722.09 L177.18,722.02 L176.66,721.91 L176.16,721.75 L175.67,721.54 L172.38,719.92 L171.11,720.75 L164.04,729.3 L163.72,729.66 L163.36,729.99 L159.78,733.03 L159.18,739.98 L159.1,740.53 L158.97,741.06 L158.79,741.59 L158.55,742.09 L158.27,742.56 L152.17,751.66 L151.81,752.14 L151.4,752.58 L150.94,752.97 L150.45,753.31 L145.5,756.3Z" fill="#000"/>
<use href="#d" x="206.36" y="730.3"/>
<use href="#d" x="150.15" y="754.54"/>
<use href="#d" x="226.4" y="686.99"/>
<use href="#d" x="167.66" y="760.85"/>
<use href="#d" x="229.15" y="692.77"/>
<use href="#d" x="154.95" y="750.22"/>
<use href="#d" x="150.81" y="751.4"/>
<use href="#d" x="207.15" y="730.5"/>
<use href="#d" x="189.4" y="706.21"/>
<use href="#d" x="207" y="728.76"/>
<use href="#d" x="207.39" y="688.01"/>
<use href="#d" x="232.65" y="699.91"/>
<use href="#d" x="144.82" y="767.37"/>
<use href="#d" x="187.66" y="740.9"/>
<use href="#d" x="145.3" y="754.56"/>
<use href="#d" x="183.01" y="747.97"/>
<use href="#d" x="174.7" y="751.3"/>
<use href="#d" x="208.88" y="688.23"/>
<use href="#d" x="164.93" y="728.06"/>
<use href="#d" x="144.38" y="762.43"/>
<use href="#d" x="144.98" y="756.57"/>
<use href="#d" x="187.53" y="701.02"/>
<use href="#d" x="159.85" y="767.06"/>
<use href="#d" x="164.6" y="730.65"/>
<use href="#d" x="146.66" y="770.14"/>
<use href="#d" x="183.2" y="711.57"/>
<use href="#d" x="234.53" y="701.04"/>
<use href="#d" x="170.16" y="724.48"/>
<use href="#d" x="172.87" y="752.42"/>
<use href="#d" x="188.27" y="709.91"/>
<use href="#d" x="201.1" y="730.76"/>
<use href="#d" x="163.13" y="765.25"/>
<use href="#d" x="232.81" y="709.68"/>
<use href="#d" x="174.94" y="749.91"/>
<use href="#d" x="168.48" y="759.77"/>
<use href="#d" x="166.04" y="726.27"/>
<use href="#d" x="147.75" y="756.72"/>
<use href="#d" x="214.99" y="723.15"/>
<use href="#d" x="193.59" y="737.12"/>
<use href="#d" x="227.81" y="691.37"/>
<use href="#d" x="168.32" y="725.76"/>
<use href="#d" x="199.56" y="731.18"/>
<use href="#d" x="143.27" y="764.51"/>
<use href="#d" x="219.71" y="720.69"/>
<use href="#d" x="158.52" y="733.3"/>
<use href="#d" x="144.75" y="760.14"/>
<use href="#d" x="227.77" y="714.81"/>
<use href="#d" x="198.99" y="697.4"/>
<use href="#d" x="218.08" y="718.17"/>
<use href="#d" x="183.99" y="719.52"/>
<use href="#d" x="152.54" y="764.59"/>
<use href="#d" x="161.11" y="735.4"/>
<use href="#d" x="189.99" y="740.84"/>
<use href="#d" x="199.98" y="732.04"/>
<use href="#d" x="212.84" y="683.83"/>
<use href="#d" x="230.17" y="706.96"/>
<use href="#d" x="164.48" y="727.58"/>
<use href="#d" x="232.89" y="705.17"/>
<use href="#d" x="202.29" y="732.92"/>
<use href="#d" x="160.45" y="741.81"/>
<use href="#d" x="188.72" y="698.85"/>
<use href="#d" x="220.89" y="719.2"/>
<use href="#d" x="171.57" y="754.97"/>
<use href="#d" x="231.42" y="694.44"/>
<use href="#d" x="188.47" y="698.11"/>
<use href="#d" x="206.46" y="687.86"/>
<use href="#d" x="178.87" y="721.63"/>
<use href="#d" x="189.29" y="739.35"/>
<use href="#d" x="160.95" y="765.63"/>
<use href="#d" x="191.41" y="696.41"/>
<use href="#d" x="156.36" y="744.7"/>
<use href="#d" x="159.7" y="739.55"/>
<use href="#d" x="192.37" y="695.16"/>
<use href="#d" x="187.74" y="709.42"/>
<use href="#d" x="182.63" y="713.13"/>
<use href="#d" x="218.92" y="719.38"/>
<use href="#d" x="164.76" y="760.47"/>
<use href="#d" x="211.66" y="681.35"/>
<use href="#d" x="205.63" y="689.04"/>
<use href="#d" x="154.75" y="764.87"/>
<use href="#d" x="146.05" y="753.03"/>
<use href="#d" x="153.39" y="768.22"/>
<use href="#d" x="154.34" y="743.77"/>
<use href="#d" x="183.69" y="720.45"/>
<use href="#d" x="150.43" y="755.34"/>
<use href="#d" x="209.15" y="728.99"/>
<use href="#d" x="194.6" y="737.58"/>
<use href="#d" x="154.92" y="764.51"/>
<use href="#d" x="143.48" y="758.01"/>
<use href="#d" x="143.59" y="764.74"/>
<use href="#d" x="142.95" y="770.23"/>
<use href="#d" x="147.47" y="771.81"/>
<use href="#d" x="154.31" y="768.15"/>
<use href="#d" x="161.23" y="768.52"/>
<use href="#d" x="166.67" y="763.37"/>
<use href="#d" x="170.28" y="759.98"/>
<use href="#d" x="174.94" y="756.08"/>
<use href="#d" x="180.21" y="751.51"/>
<use href="#d" x="187.71" y="750.63"/>
<use href="#d" x="189.33" y="744.44"/>
<use href="#d" x="194.34" y="740.14"/>
<use href="#d" x="198.41" y="736.29"/>
<use href="#d" x="204.69" y="731.92"/>
<use href="#d" x="211.02" y="729.66"/>
<use href="#d" x="214.79" y="725.36"/>
<use href="#d" x="220.54" y="721.97"/>
<use href="#d" x="225.95" y="717.94"/>
<use href="#d" x="233.06" y="716.25"/>
<use href="#d" x="232.99" y="710.77"/>
<use href="#d" x="233.29" y="704.2"/>
<use href="#d" x="235.92" y="697.98"/>
<use href="#d" x="236" y="692.19"/>
<use href="#d" x="229.95" y="688.24"/>
<use href="#d" x="224.57" y="684.01"/>
<use href="#d" x="219.67" y="684.79"/>
<use href="#d" x="214.82" y="680.79"/>
<use href="#d" x="209.13" y="681.53"/>
<use href="#d" x="203.97" y="685.99"/>
<use href="#d" x="200.54" y="691.82"/>
<use href="#d" x="194.48" y="693.28"/>
<use href="#d" x="189.12" y="691.81"/>
<use href="#d" x="188.1" y="697.23"/>
<use href="#d" x="185.12" y="702.7"/>
<use href="#d" x="182.91" y="710.13"/>
<use href="#d" x="181.4" y="716.5"/>
<use href="#d" x="177.24" y="719.35"/>
<use href="#d" x="170.2" y="718.38"/>
<use href="#d" x="165.87" y="721.04"/>
<use href="#d" x="163.19" y="726.99"/>
<use href="#d" x="157.75" y="730.61"/>
<use href="#d" x="155.76" y="738.1"/>
<use href="#d" x="154.65" y="744.5"/>
<use href="#d" x="151.08" y="749.52"/>
<use href="#d" x="146.22" y="752.76"/>
<use href="#d" x="142" y="764.93"/>
<use href="#d" x="139.48" y="763.33"/>
<use href="#d" x="141.63" y="764.6"/>
<use href="#d" x="145.29" y="766.29"/>
<use href="#d" x="145.16" y="758.3"/>
<use href="#d" x="141.16" y="759.11"/>
<use href="#d" x="51.2" y="813.8"/>
<use href="#d" x="96.8" y="834.3"/>
<use href="#d" x="134.4" y="832"/>
<use href="#d" x="102.5" y="812.9"/>
<use href="#d" x="112.1" y="802.1"/>
<use href="#d" x="108.7" y="793.8"/>
<use href="#d" x="104.8" y="765.9"/>
<use href="#d" x="112.1" y="761.2"/>
<use href="#d" x="121.3" y="753"/>
<use href="#d" x="137" y="744.5"/>
<use href="#d" x="125.5" y="763.2"/>
<use href="#d" x="124.8" y="771.8"/>
<use href="#d" x="132.1" y="783.3"/>
<use href="#d" x="136" y="783.3"/>
<use href="#d" x="139.1" y="772.8"/>
<use href="#d" x="143.9" y="777.8"/>
<use href="#d" x="153.1" y="774.1"/>
<use href="#d" x="166.3" y="774.1"/>
<use href="#d" x="148.5" y="749.7"/>
<use href="#d" x="194.1" y="655.9"/>
<use href="#d" x="201.8" y="661.4"/>
<use href="#d" x="207.9" y="667.8"/>
<use href="#d" x="220" y="667.1"/>
<use href="#d" x="187.6" y="671.6"/>
<use href="#d" x="197.9" y="676.2"/>
<use href="#d" x="171.3" y="679.7"/>
<use href="#d" x="224.6" y="675.4"/>
<use href="#d" x="234.5" y="682.3"/>
<use href="#d" x="246.7" y="663.2"/>
<use href="#d" x="251.3" y="661"/>
<use href="#d" x="252.8" y="669.3"/>
<use href="#d" x="249.8" y="684.6"/>
<use href="#d" x="254.4" y="682.3"/>
<use href="#d" x="251" y="693"/>
<use href="#d" x="255.9" y="705.9"/>
<use href="#d" x="243.7" y="721.2"/>
<use href="#d" x="249" y="722.7"/>
<use href="#d" x="249.8" y="734.9"/>
<use href="#d" x="230" y="732.6"/>
<use href="#d" x="236.1" y="721.2"/>
<use href="#d" x="213.2" y="734.2"/>
<use href="#d" x="199.5" y="745.6"/>
<use href="#d" x="196.4" y="761.6"/>
<use href="#d" x="182.7" y="766.9"/>
<use href="#d" x="165.9" y="773.8"/>
<use href="#d" x="153" y="773.8"/>
<use href="#d" x="178.1" y="695.3"/>
<use href="#d" x="178.9" y="704.4"/>
<use href="#d" x="165.2" y="712.8"/>
<use href="#d" x="158.3" y="723.5"/>
<use href="#d" x="267.4" y="670.5"/>
<use href="#d" x="300.4" y="666.1"/>
<use href="#d" x="280.5" y="678.8"/>
<use href="#d" x="272.2" y="696.3"/>
<use href="#d" x="235.3" y="721.3"/>
<use href="#d" x="234.5" y="682.5"/>
<use href="#d" x="235.8" y="690.5"/>
<use href="#d" x="236.9" y="701.1"/>
</svg>
<svg x="322.9" y="648.2" width="275" height="195.8" viewBox="322.9 648.2 275 195.8" overflow="hidden">
<rect x="322.9" y="648.2" width="275" height="195.8" fill="#ebebeb"/>
<line x1="322.9" x2="597.9" y1="820.8" y2="820.8" stroke="#fff" stroke-width="1.45"/>
<line x1="322.9" x2="597.9" y1="757.2" y2="757.2" stroke="#fff" stroke-width="1.45"/>
<line x1="322.9" x2="597.9" y1="693.6" y2="693.6" stroke="#fff" stroke-width="1.45"/>
<line x1="322.9" x2="597.9" y1="789" y2="789" stroke="#fff" stroke-width="1.75"/>
<line x1="322.9" x2="597.9" y1="725.4" y2="725.4" stroke="#fff" stroke-width="1.75"/>
<line x1="322.9" x2="597.9" y1="661.8" y2="661.8" stroke="#fff" stroke-width="1.75"/>
<line x1="358.6" x2="358.6" y1="648.2" y2="844" stroke="#fff" stroke-width="1.45"/>
<line x1="430.9" x2="430.9" y1="648.2" y2="844" stroke="#fff" stroke-width="1.45"/>
<line x1="503.2" x2="503.2" y1="648.2" y2="844" stroke="#fff" stroke-width="1.45"/>
<line x1="575.5" x2="575.5" y1="648.2" y2="844" stroke="#fff" stroke-width="1.45"/>
<line x1="394.75" x2="394.75" y1="648.2" y2="844" stroke="#fff" stroke-width="1.75"/>
<line x1="467.05" x2="467.05" y1="648.2" y2="844" stroke="#fff" stroke-width="1.75"/>
<line x1="539.35" x2="539.35" y1="648.2" y2="844" stroke="#fff" stroke-width="1.75"/>
<use href="#d" x="453.91" y="708.68"/>
<use href="#d" x="479.54" y="687.6"/>
<use href="#d" x="510.13" y="708.23"/>
<use href="#d" x="466.01" y="741.83"/>
<use href="#d" x="489.84" y="681.43"/>
<use href="#d" x="504.44" y="682.49"/>
<use href="#d" x="513.23" y="707.35"/>
<use href="#d" x="457.96" y="751.26"/>
<use href="#d" x="444.74" y="759.94"/>
<use href="#d" x="439.02" y="725.13"/>
<use href="#d" x="455.27" y="755.58"/>
<use href="#d" x="498.04" y="683.35"/>
<use href="#d" x="410.16" y="771.73"/>
<use href="#d" x="487.44" y="682.16"/>
<use href="#d" x="510.04" y="711.92"/>
<use href="#d" x="446.55" y="720.16"/>
<use href="#d" x="487.08" y="680.36"/>
<use href="#d" x="409.21" y="769"/>
<use href="#d" x="473.33" y="738.31"/>
<use href="#d" x="473.42" y="692.53"/>
<use href="#d" x="493.8" y="726.56"/>
<use href="#d" x="448.18" y="755.07"/>
<use href="#d" x="455.97" y="751.83"/>
<use href="#d" x="438.57" y="724.22"/>
<use href="#d" x="471.34" y="690.42"/>
<use href="#d" x="509.08" y="710.95"/>
<use href="#d" x="497.64" y="684.64"/>
<use href="#d" x="459.82" y="700.79"/>
<use href="#d" x="454.8" y="711.96"/>
<use href="#d" x="479.07" y="687.94"/>
<use href="#d" x="458.89" y="703.54"/>
<use href="#d" x="503.71" y="683.64"/>
<use href="#d" x="483.73" y="689.09"/>
<use href="#d" x="492.75" y="681.5"/>
<use href="#d" x="457.32" y="708.03"/>
<path d="M415.5,761.25 L415.5,769.43 L420.76,766.27 L427.37,761 L427.8,760.69 L428.25,760.42 L428.73,760.2 L435.25,757.56 L441.79,753.67 L442.14,753.48 L447.3,750.9 L452.09,747.33 L457.41,742.01 L457.84,741.63 L458.31,741.29 L458.8,741 L463.91,738.4 L469.15,734.56 L469.54,734.3 L476.44,730.1 L477,729.8 L477.6,729.57 L485.01,727.16 L489.76,723.53 L489.8,723.5 L494.38,720.07 L496.6,715.7 L496.83,715.3 L497.09,714.91 L501.19,709.41 L501.52,709.02 L501.88,708.65 L502.27,708.32 L502.69,708.03 L503.14,707.78 L507.92,705.39 L511.56,701.68 L512.31,697.27 L511.26,695.73 L507.94,693.2 L504.2,693.2 L503.66,693.17 L503.13,693.09 L502.6,692.96 L502.1,692.78 L501.61,692.55 L501.14,692.27 L500.71,691.95 L500.31,691.59 L497.57,688.85 L495.49,689.85 L495.07,690.04 L494.64,690.18 L494.19,690.29 L489.38,691.27 L486.54,695.15 L486.22,695.55 L485.86,695.91 L485.48,696.24 L485.06,696.54 L484.62,696.79 L484.15,697 L483.67,697.17 L483.18,697.29 L476.18,698.69 L475.67,698.77 L475.15,698.8 L474.63,698.78 L474.11,698.71 L473.61,698.59 L473.12,698.43 L472.64,698.22 L472.19,697.97 L471.76,697.67 L466.99,694.03 L466.92,694 L465.04,695.92 L463.92,702.51 L463.8,703.05 L463.63,703.58 L463.41,704.08 L459.21,712.38 L458.9,712.92 L458.53,713.42 L451.63,721.72 L451.25,722.13 L450.83,722.5 L443.93,728 L443.36,728.4 L437.01,732.27 L431.12,738.07 L427.43,745.54 L427.14,746.06 L426.79,746.54 L426.39,746.99 L419.92,753.46 L415.5,761.25Z" fill="#000"/>
<use href="#d" x="433.02" y="732.73"/>
<use href="#d" x="484.28" y="695.96"/>
<use href="#d" x="473.46" y="730.98"/>
<use href="#d" x="416.59" y="760.92"/>
<use href="#d" x="449.03" y="721.4"/>
<use href="#d" x="451.05" y="723.02"/>
<use href="#d" x="470.59" y="731.83"/>
<use href="#d" x="430.07" y="739.52"/>
<use href="#d" x="512.74" y="695.48"/>
<use href="#d" x="467.79" y="734.47"/>
<use href="#d" x="440.16" y="756.81"/>
<use href="#d" x="513.28" y="697.4"/>
<use href="#d" x="446.08" y="751.34"/>
<use href="#d" x="441.49" y="755.28"/>
<use href="#d" x="463.35" y="701.68"/>
<use href="#d" x="433.77" y="761.18"/>
<use href="#d" x="473.67" y="733.32"/>
<use href="#d" x="503" y="691.79"/>
<use href="#d" x="422.53" y="750.46"/>
<use href="#d" x="512.56" y="695.46"/>
<use href="#d" x="485.17" y="726.88"/>
<use href="#d" x="466.42" y="737.27"/>
<use href="#d" x="511.96" y="696.58"/>
<use href="#d" x="414.8" y="765.82"/>
<use href="#d" x="455.2" y="715.74"/>
<use href="#d" x="464.95" y="737.11"/>
<use href="#d" x="467.96" y="695.75"/>
<use href="#d" x="425.62" y="746.53"/>
<use href="#d" x="458.65" y="740.41"/>
<use href="#d" x="486.62" y="725.92"/>
<use href="#d" x="446.69" y="752.48"/>
<use href="#d" x="497.46" y="714.65"/>
<use href="#d" x="505.95" y="707.53"/>
<use href="#d" x="492.96" y="723.19"/>
<use href="#d" x="512.46" y="702.74"/>
<use href="#d" x="435.31" y="733.02"/>
<use href="#d" x="461.36" y="706.88"/>
<use href="#d" x="447.04" y="749.25"/>
<use href="#d" x="480.97" y="730.18"/>
<use href="#d" x="494.84" y="719.64"/>
<use href="#d" x="413.75" y="769.31"/>
<use href="#d" x="428.52" y="746.54"/>
<use href="#d" x="416.56" y="765.24"/>
<use href="#d" x="415.69" y="771.17"/>
<use href="#d" x="438.59" y="753.99"/>
<use href="#d" x="494.96" y="716.43"/>
<use href="#d" x="450.09" y="748.57"/>
<use href="#d" x="509.76" y="691.54"/>
<use href="#d" x="436.68" y="757.69"/>
<use href="#d" x="483" y="729.61"/>
<use href="#d" x="499.35" y="716.33"/>
<use href="#d" x="480.46" y="695.8"/>
<use href="#d" x="489.78" y="724.46"/>
<use href="#d" x="418.34" y="766.48"/>
<use href="#d" x="426.43" y="763.58"/>
<use href="#d" x="499.58" y="686.9"/>
<use href="#d" x="430.33" y="759.3"/>
<use href="#d" x="446.22" y="724.63"/>
<use href="#d" x="413.91" y="766.38"/>
<use href="#d" x="491.99" y="688.62"/>
<use href="#d" x="509.83" y="693.32"/>
<use href="#d" x="450.4" y="725.15"/>
<use href="#d" x="488.83" y="726.47"/>
<use href="#d" x="459.16" y="741.53"/>
<use href="#d" x="471.89" y="695.65"/>
<use href="#d" x="488.12" y="691.48"/>
<use href="#d" x="438.91" y="731.73"/>
<use href="#d" x="441.75" y="729.15"/>
<use href="#d" x="461.94" y="708.24"/>
<use href="#d" x="421.26" y="768.22"/>
<use href="#d" x="439.5" y="755.76"/>
<use href="#d" x="445.13" y="750.82"/>
<use href="#d" x="414.43" y="758.97"/>
<use href="#d" x="453.54" y="722.12"/>
<use href="#d" x="480.88" y="698.12"/>
<use href="#d" x="474.29" y="696.35"/>
<use href="#d" x="502.79" y="691.34"/>
<use href="#d" x="424.06" y="766.76"/>
<use href="#d" x="449.81" y="750.36"/>
<use href="#d" x="421.91" y="752.41"/>
<use href="#d" x="443.58" y="728.57"/>
<use href="#d" x="459.48" y="709.5"/>
<use href="#d" x="420.97" y="768.36"/>
<use href="#d" x="491.56" y="720.3"/>
<use href="#d" x="418.47" y="767.11"/>
<use href="#d" x="420.08" y="756.25"/>
<use href="#d" x="411.87" y="764.46"/>
<use href="#d" x="413.05" y="770.33"/>
<use href="#d" x="417.21" y="771.16"/>
<use href="#d" x="423.07" y="767.56"/>
<use href="#d" x="427.62" y="764.87"/>
<use href="#d" x="433.33" y="762.29"/>
<use href="#d" x="439.52" y="759.01"/>
<use href="#d" x="444.21" y="754.76"/>
<use href="#d" x="450.37" y="752.81"/>
<use href="#d" x="456.15" y="747.31"/>
<use href="#d" x="460.94" y="744.24"/>
<use href="#d" x="465.62" y="740.38"/>
<use href="#d" x="471.6" y="736.44"/>
<use href="#d" x="477.44" y="734.01"/>
<use href="#d" x="483.01" y="730.47"/>
<use href="#d" x="488.64" y="727.41"/>
<use href="#d" x="494.07" y="724.14"/>
<use href="#d" x="498.15" y="719.53"/>
<use href="#d" x="500.9" y="714.13"/>
<use href="#d" x="506.59" y="709.23"/>
<use href="#d" x="510.84" y="706.92"/>
<use href="#d" x="514.66" y="701.19"/>
<use href="#d" x="513.21" y="695.55"/>
<use href="#d" x="509.57" y="691.29"/>
<use href="#d" x="502.13" y="689.13"/>
<use href="#d" x="497.1" y="686.06"/>
<use href="#d" x="491.52" y="688.06"/>
<use href="#d" x="486.53" y="690.1"/>
<use href="#d" x="482.75" y="694.57"/>
<use href="#d" x="475.51" y="695.05"/>
<use href="#d" x="470.73" y="692.43"/>
<use href="#d" x="465.41" y="693.26"/>
<use href="#d" x="462.65" y="696.88"/>
<use href="#d" x="459.64" y="703.21"/>
<use href="#d" x="457.69" y="710.66"/>
<use href="#d" x="453.47" y="714.55"/>
<use href="#d" x="448.97" y="720.68"/>
<use href="#d" x="444.88" y="724.54"/>
<use href="#d" x="438.25" y="728.83"/>
<use href="#d" x="433.04" y="732.02"/>
<use href="#d" x="429.36" y="736.28"/>
<use href="#d" x="425.97" y="741.96"/>
<use href="#d" x="422.93" y="747.46"/>
<use href="#d" x="418.06" y="751.21"/>
<use href="#d" x="413.89" y="757.18"/>
<path d="M409.23,764.46 L409.28,764.5 L414.5,764.5 L414.5,760.11 L410.52,763.43 L410.44,763.49 L409.23,764.46Z" fill="#000"/>
<use href="#d" x="417.24" y="765.96"/>
<use href="#d" x="412.97" y="764.97"/>
<use href="#d" x="410.97" y="761.69"/>
<use href="#d" x="415.81" y="758.05"/>
<use href="#d" x="415.48" y="762.37"/>
<use href="#d" x="417.26" y="765.55"/>
<use href="#d" x="411.04" y="766.45"/>
<use href="#d" x="417.19" y="766.53"/>
<use href="#d" x="416.33" y="758.81"/>
<use href="#d" x="417.79" y="753.64"/>
<use href="#d" x="411.22" y="758.82"/>
<use href="#d" x="405.72" y="764.06"/>
<use href="#d" x="335.6" y="813.8"/>
<use href="#d" x="350.9" y="812.6"/>
<use href="#d" x="362.6" y="794"/>
<use href="#d" x="381.5" y="802.1"/>
<use href="#d" x="368.6" y="834.2"/>
<use href="#d" x="377.6" y="831.8"/>
<use href="#d" x="384" y="834.2"/>
<use href="#d" x="368.6" y="765.8"/>
<use href="#d" x="381.5" y="772.7"/>
<use href="#d" x="393.2" y="767"/>
<use href="#d" x="402.5" y="783.2"/>
<use href="#d" x="436.4" y="774.2"/>
<use href="#d" x="450.3" y="767"/>
<use href="#d" x="454.5" y="761"/>
<use href="#d" x="402.2" y="758.6"/>
<use href="#d" x="416.6" y="777.2"/>
<use href="#d" x="411.8" y="772.4"/>
<use href="#d" x="422.6" y="767.6"/>
<use href="#d" x="432.2" y="763.4"/>
<use href="#d" x="477.9" y="661.7"/>
<use href="#d" x="458.2" y="671.5"/>
<use href="#d" x="455.4" y="680.1"/>
<use href="#d" x="486.9" y="675.9"/>
<use href="#d" x="477.9" y="684.2"/>
<use href="#d" x="453" y="700.2"/>
<use href="#d" x="447.4" y="705.7"/>
<use href="#d" x="435.6" y="712.7"/>
<use href="#d" x="427.3" y="725.8"/>
<use href="#d" x="414.2" y="733.4"/>
<use href="#d" x="417.6" y="740.4"/>
<use href="#d" x="462.7" y="754.2"/>
<use href="#d" x="466.8" y="752.8"/>
<use href="#d" x="461.3" y="762.5"/>
<use href="#d" x="448.8" y="763.9"/>
<use href="#d" x="437" y="774.3"/>
<use href="#d" x="469.6" y="743.1"/>
<use href="#d" x="479.3" y="737.6"/>
<use href="#d" x="500.8" y="733.4"/>
<use href="#d" x="509.8" y="719.6"/>
<use href="#d" x="484.1" y="656.5"/>
<use href="#d" x="501.6" y="669"/>
<use href="#d" x="518" y="668.2"/>
<use href="#d" x="529.8" y="666.9"/>
<use href="#d" x="536.7" y="670.5"/>
<use href="#d" x="544" y="661.3"/>
<use href="#d" x="544" y="665.5"/>
<use href="#d" x="558.2" y="669.3"/>
<use href="#d" x="585" y="682.3"/>
<use href="#d" x="544" y="678.8"/>
<use href="#d" x="546.4" y="690.6"/>
<use href="#d" x="525.3" y="680.7"/>
<use href="#d" x="530" y="684.5"/>
<use href="#d" x="504" y="675.5"/>
<use href="#d" x="505.4" y="680.7"/>
<use href="#d" x="516.8" y="688.7"/>
<use href="#d" x="516.8" y="695.3"/>
<use href="#d" x="536.7" y="692.5"/>
<use href="#d" x="532.9" y="696.3"/>
<use href="#d" x="530" y="699.1"/>
<use href="#d" x="526.3" y="702"/>
<use href="#d" x="516.8" y="707.7"/>
<use href="#d" x="520.6" y="716.2"/>
<use href="#d" x="527.7" y="717.6"/>
<use href="#d" x="511.1" y="720"/>
<use href="#d" x="508.3" y="721.9"/>
</svg>
<svg x="607.75" y="648.2" width="275.45" height="195.8" viewBox="607.75 648.2 275.45 195.8" overflow="hidden">
<rect x="607.75" y="648.2" width="275.45" height="195.8" fill="#ebebeb"/>
<line x1="607.75" x2="883.2" y1="820.8" y2="820.8" stroke="#fff" stroke-width="1.45"/>
<line x1="607.75" x2="883.2" y1="757.2" y2="757.2" stroke="#fff" stroke-width="1.45"/>
<line x1="607.75" x2="883.2" y1="693.6" y2="693.6" stroke="#fff" stroke-width="1.45"/>
<line x1="607.75" x2="883.2" y1="789" y2="789" stroke="#fff" stroke-width="1.75"/>
<line x1="607.75" x2="883.2" y1="725.4" y2="725.4" stroke="#fff" stroke-width="1.75"/>
<line x1="607.75" x2="883.2" y1="661.8" y2="661.8" stroke="#fff" stroke-width="1.75"/>
<line x1="662.6" x2="662.6" y1="648.2" y2="844" stroke="#fff" stroke-width="1.45"/>
<line x1="723.8" x2="723.8" y1="648.2" y2="844" stroke="#fff" stroke-width="1.45"/>
<line x1="785" x2="785" y1="648.2" y2="844" stroke="#fff" stroke-width="1.45"/>
<line x1="846.2" x2="846.2" y1="648.2" y2="844" stroke="#fff" stroke-width="1.45"/>
<line x1="632" x2="632" y1="648.2" y2="844" stroke="#fff" stroke-width="1.75"/>
<line x1="693.2" x2="693.2" y1="648.2" y2="844" stroke="#fff" stroke-width="1.75"/>
<line x1="754.4" x2="754.4" y1="648.2" y2="844" stroke="#fff" stroke-width="1.75"/>
<line x1="815.6" x2="815.6" y1="648.2" y2="844" stroke="#fff" stroke-width="1.75"/>
<line x1="876.8" x2="876.8" y1="648.2" y2="844" stroke="#fff" stroke-width="1.75"/>
<use href="#d" x="758.57" y="738.76"/>
<use href="#d" x="734.16" y="760.92"/>
<use href="#d" x="714.29" y="766.58"/>
<use href="#d" x="753.62" y="702.27"/>
<use href="#d" x="781.98" y="716.69"/>
<use href="#d" x="781.5" y="716.51"/>
<use href="#d" x="708.39" y="751.08"/>
<use href="#d" x="785.41" y="703.1"/>
<use href="#d" x="712.13" y="746.5"/>
<use href="#d" x="721.24" y="767.92"/>
<use href="#d" x="740.66" y="719.44"/>
<use href="#d" x="707.14" y="754.61"/>
<use href="#d" x="702.5" y="762.18"/>
<use href="#d" x="774.23" y="726.44"/>
<use href="#d" x="774.57" y="720.13"/>
<use href="#d" x="697.74" y="750.53"/>
<use href="#d" x="699.35" y="763.92"/>
<use href="#d" x="701.96" y="760.14"/>
<use href="#d" x="731.94" y="764.24"/>
<use href="#d" x="702.11" y="765.34"/>
<use href="#d" x="753.47" y="703.32"/>
<use href="#d" x="713.04" y="767.8"/>
<use href="#d" x="704.7" y="752.58"/>
<use href="#d" x="717.76" y="768.11"/>
<use href="#d" x="697.25" y="752.69"/>
<use href="#d" x="756.92" y="697.78"/>
<use href="#d" x="778.46" y="710.95"/>
<use href="#d" x="785.34" y="714.69"/>
<use href="#d" x="692.95" y="761.47"/>
<use href="#d" x="786.8" y="709.92"/>
<use href="#d" x="783.9" y="700.65"/>
<use href="#d" x="755.73" y="697.33"/>
<use href="#d" x="746.82" y="714.76"/>
<use href="#d" x="696.1" y="757.14"/>
<use href="#d" x="699.43" y="760.52"/>
<use href="#d" x="745.3" y="717.51"/>
<use href="#d" x="741.81" y="754.57"/>
<use href="#d" x="750.41" y="744.61"/>
<use href="#d" x="698.54" y="754.62"/>
<use href="#d" x="781.4" y="715.38"/>
<use href="#d" x="702.81" y="748.94"/>
<use href="#d" x="731.82" y="723.77"/>
<use href="#d" x="725.87" y="769.01"/>
<use href="#d" x="707.17" y="763.34"/>
<use href="#d" x="745.33" y="749.23"/>
<use href="#d" x="767.76" y="731.4"/>
<use href="#d" x="745.37" y="751.79"/>
<use href="#d" x="743.34" y="714.14"/>
<use href="#d" x="703.2" y="761.1"/>
<use href="#d" x="736.64" y="758.67"/>
<use href="#d" x="784.16" y="714.1"/>
<use href="#d" x="783.95" y="718.99"/>
<use href="#d" x="749.43" y="701.95"/>
<use href="#d" x="763.44" y="690.9"/>
<use href="#d" x="752.27" y="700.79"/>
<use href="#d" x="762.05" y="735.6"/>
<path d="M717.33,744.46 L714.59,750.9 L715.33,759.75 L717.33,762.06 L721.58,761.35 L727.54,759.38 L736.34,750.59 L739.79,744.86 L740.12,744.38 L740.49,743.93 L740.92,743.53 L741.38,743.17 L741.88,742.87 L742.4,742.62 L748.07,740.28 L752.61,736.89 L753.09,736.57 L758.87,733.14 L763.14,728.79 L766.83,723.96 L766.89,723.88 L771.4,718.2 L773.7,712.55 L775.8,707.25 L775.8,703.2 L775.82,702.68 L775.9,702.17 L776.02,701.66 L776.19,701.17 L776.4,700.7 L778.98,695.64 L780.26,693.02 L779.2,690.9 L776.46,687.22 L774.74,686.34 L771.07,687.83 L768.57,689.34 L768.85,690.54 L768.95,691.09 L769,691.65 L768.99,692.21 L768.92,692.76 L768.79,693.3 L768.61,693.83 L768.38,694.34 L768.09,694.82 L767.76,695.27 L767.39,695.69 L763.59,699.49 L763.14,699.89 L762.65,700.24 L762.12,700.54 L758.49,702.32 L755.75,706.93 L753.41,712.83 L753.22,713.27 L752.98,713.69 L752.71,714.09 L748.91,719.19 L748.61,719.55 L748.28,719.89 L747.93,720.2 L741.53,725.3 L740.94,725.71 L735.21,729.16 L729.29,735.09 L728.79,735.53 L728.24,735.91 L722.5,739.37 L717.33,744.46Z" fill="#000"/>
<use href="#d" x="773.7" y="715.85"/>
<use href="#d" x="754.89" y="706.39"/>
<use href="#d" x="781.7" y="695.73"/>
<use href="#d" x="723.36" y="760.81"/>
<use href="#d" x="735.44" y="727.31"/>
<use href="#d" x="731.33" y="756.81"/>
<use href="#d" x="756.43" y="706.56"/>
<use href="#d" x="752.51" y="739.12"/>
<use href="#d" x="725.76" y="762.63"/>
<use href="#d" x="778.43" y="686.27"/>
<use href="#d" x="742.19" y="723.65"/>
<use href="#d" x="717.11" y="743.94"/>
<use href="#d" x="712.45" y="753.79"/>
<use href="#d" x="757.72" y="736.62"/>
<use href="#d" x="734.88" y="754.9"/>
<use href="#d" x="751.1" y="737.18"/>
<use href="#d" x="758.25" y="733.09"/>
<use href="#d" x="765.9" y="694.42"/>
<use href="#d" x="757.18" y="704.06"/>
<use href="#d" x="713.66" y="759.96"/>
<use href="#d" x="751.68" y="738.9"/>
<use href="#d" x="769.65" y="690.18"/>
<use href="#d" x="717.71" y="740.36"/>
<use href="#d" x="732.21" y="754.47"/>
<use href="#d" x="752.77" y="713.36"/>
<use href="#d" x="744.17" y="739.91"/>
<use href="#d" x="771.94" y="686.82"/>
<use href="#d" x="715.84" y="757.1"/>
<use href="#d" x="755.14" y="712.64"/>
<use href="#d" x="772.82" y="716.85"/>
<use href="#d" x="767.42" y="725.57"/>
<use href="#d" x="778.87" y="688.08"/>
<use href="#d" x="766.74" y="695.32"/>
<use href="#d" x="740.87" y="726.12"/>
<use href="#d" x="776.09" y="707.22"/>
<use href="#d" x="760.28" y="698.85"/>
<use href="#d" x="761.54" y="729.73"/>
<use href="#d" x="720.6" y="762.19"/>
<use href="#d" x="772.85" y="684.37"/>
<use href="#d" x="737" y="728.41"/>
<use href="#d" x="735.26" y="749.04"/>
<use href="#d" x="764.2" y="724.91"/>
<use href="#d" x="722.04" y="739.35"/>
<use href="#d" x="717.76" y="742.63"/>
<use href="#d" x="737.03" y="726.25"/>
<use href="#d" x="768.86" y="724.73"/>
<use href="#d" x="733.42" y="753.78"/>
<use href="#d" x="768.09" y="692.9"/>
<use href="#d" x="735.72" y="728.62"/>
<use href="#d" x="755.46" y="737.64"/>
<use href="#d" x="774.38" y="688.14"/>
<use href="#d" x="742.21" y="742.03"/>
<use href="#d" x="742.75" y="744.41"/>
<use href="#d" x="777.6" y="697.86"/>
<use href="#d" x="760.59" y="735.32"/>
<use href="#d" x="777.43" y="685.15"/>
<use href="#d" x="729.69" y="736.38"/>
<use href="#d" x="780.54" y="697.45"/>
<use href="#d" x="740" y="749.54"/>
<use href="#d" x="775.31" y="687.16"/>
<use href="#d" x="749.15" y="737.31"/>
<use href="#d" x="759.85" y="702.46"/>
<use href="#d" x="770.42" y="689.7"/>
<use href="#d" x="728.63" y="756.21"/>
<use href="#d" x="770.84" y="691.28"/>
<use href="#d" x="773.41" y="716.22"/>
<use href="#d" x="720.55" y="739.37"/>
<use href="#d" x="712.99" y="747.94"/>
<use href="#d" x="711.8" y="752.52"/>
<use href="#d" x="713.5" y="760.73"/>
<use href="#d" x="716.92" y="764.5"/>
<use href="#d" x="722.16" y="763.35"/>
<use href="#d" x="729.81" y="760.83"/>
<use href="#d" x="733.56" y="756.5"/>
<use href="#d" x="737.52" y="752.58"/>
<use href="#d" x="741.49" y="745.84"/>
<use href="#d" x="747.72" y="742.54"/>
<use href="#d" x="752.61" y="740.32"/>
<use href="#d" x="759.23" y="735.68"/>
<use href="#d" x="763.37" y="732.05"/>
<use href="#d" x="766.88" y="727.34"/>
<use href="#d" x="771.9" y="721.46"/>
<use href="#d" x="774.51" y="717.39"/>
<use href="#d" x="778.04" y="711.23"/>
<use href="#d" x="777.9" y="704.54"/>
<use href="#d" x="780.58" y="698.39"/>
<use href="#d" x="782.65" y="691.24"/>
<use href="#d" x="780.21" y="687.06"/>
<use href="#d" x="773.56" y="684.17"/>
<use href="#d" x="767.39" y="686.11"/>
<use href="#d" x="766.26" y="690.61"/>
<use href="#d" x="761.84" y="696.21"/>
<use href="#d" x="757.63" y="700.97"/>
<use href="#d" x="753.55" y="705.78"/>
<use href="#d" x="750.44" y="711.49"/>
<use href="#d" x="747.74" y="716.56"/>
<use href="#d" x="741.08" y="721.8"/>
<use href="#d" x="737.14" y="726.02"/>
<use href="#d" x="731.44" y="728.17"/>
<use href="#d" x="726.56" y="732.94"/>
<use href="#d" x="721.85" y="737.12"/>
<use href="#d" x="716.67" y="742.49"/>
<use href="#d" x="620.5" y="832"/>
<use href="#d" x="624.4" y="834.3"/>
<use href="#d" x="667.9" y="834.3"/>
<use href="#d" x="671.6" y="802.1"/>
<use href="#d" x="678.7" y="812.6"/>
<use href="#d" x="688.9" y="813.6"/>
<use href="#d" x="694.8" y="794.1"/>
<use href="#d" x="709.1" y="783.3"/>
<use href="#d" x="727.7" y="783.3"/>
<use href="#d" x="693.5" y="744.5"/>
<use href="#d" x="700.8" y="733.3"/>
<use href="#d" x="687.6" y="764.9"/>
<use href="#d" x="691.6" y="766.6"/>
<use href="#d" x="697.5" y="762.9"/>
<use href="#d" x="733.7" y="766.8"/>
<use href="#d" x="733.7" y="772.8"/>
<use href="#d" x="721.2" y="777.4"/>
<use href="#d" x="717.2" y="773.4"/>
<use href="#d" x="710" y="770.1"/>
<use href="#d" x="709.3" y="745.8"/>
<use href="#d" x="700.1" y="748.4"/>
<use href="#d" x="715.9" y="735.9"/>
<use href="#d" x="732.4" y="671.4"/>
<use href="#d" x="733.7" y="680.1"/>
<use href="#d" x="705.1" y="720.7"/>
<use href="#d" x="710.2" y="725.8"/>
<use href="#d" x="701.3" y="733.1"/>
<use href="#d" x="776.9" y="661.3"/>
<use href="#d" x="778.8" y="668.9"/>
<use href="#d" x="788.9" y="667.6"/>
<use href="#d" x="792.1" y="669.5"/>
<use href="#d" x="797.8" y="662.5"/>
<use href="#d" x="798.5" y="675.2"/>
<use href="#d" x="787.7" y="681.6"/>
<use href="#d" x="792.8" y="682.2"/>
<use href="#d" x="766.1" y="677.8"/>
<use href="#d" x="794" y="694.3"/>
<use href="#d" x="791.5" y="707.6"/>
<use href="#d" x="799.1" y="719.7"/>
<use href="#d" x="783.9" y="721.6"/>
<use href="#d" x="778.8" y="729.9"/>
<use href="#d" x="790.9" y="736.2"/>
<use href="#d" x="784.5" y="738.8"/>
<use href="#d" x="790.2" y="761.7"/>
<use href="#d" x="752.1" y="762.9"/>
<use href="#d" x="748.9" y="752.1"/>
<use href="#d" x="757.8" y="744.5"/>
<use href="#d" x="733.7" y="766.1"/>
<use href="#d" x="744.5" y="688"/>
<use href="#d" x="750.2" y="693"/>
<use href="#d" x="740.7" y="700.7"/>
<use href="#d" x="730.5" y="712.1"/>
<use href="#d" x="736.8" y="712.1"/>
<use href="#d" x="740.7" y="710.8"/>
<use href="#d" x="730.5" y="718.5"/>
<use href="#d" x="716.5" y="735.6"/>
<use href="#d" x="708.9" y="746.4"/>
<use href="#d" x="763.1" y="656.5"/>
<use href="#d" x="777.2" y="661"/>
<use href="#d" x="798.1" y="660.7"/>
<use href="#d" x="801.9" y="665.5"/>
<use href="#d" x="837.1" y="663.4"/>
<use href="#d" x="778.5" y="669.2"/>
<use href="#d" x="782.7" y="668.2"/>
<use href="#d" x="790.7" y="668.2"/>
<use href="#d" x="809.3" y="670.3"/>
<use href="#d" x="811.4" y="676.1"/>
<use href="#d" x="798.7" y="675.1"/>
<use href="#d" x="800.8" y="678.8"/>
<use href="#d" x="787" y="680.9"/>
<use href="#d" x="792.3" y="682"/>
<use href="#d" x="827.9" y="684.6"/>
<use href="#d" x="859.7" y="691.5"/>
<use href="#d" x="870.4" y="704.8"/>
<use href="#d" x="795.5" y="693.7"/>
<use href="#d" x="809.3" y="693.7"/>
<use href="#d" x="807.2" y="700"/>
<use href="#d" x="814.6" y="703.2"/>
<use href="#d" x="791.2" y="707.5"/>
<use href="#d" x="798.7" y="718.6"/>
<use href="#d" x="806.1" y="722.3"/>
<use href="#d" x="825.2" y="726.1"/>
<use href="#d" x="852.3" y="728.2"/>
<use href="#d" x="784.9" y="721.3"/>
<use href="#d" x="779.6" y="729.8"/>
<use href="#d" x="791.2" y="736.1"/>
<use href="#d" x="784.9" y="734"/>
</svg>
<svg x="892.9" y="648.2" width="275.2" height="195.8" viewBox="892.9 648.2 275.2 195.8" overflow="hidden">
<rect x="892.9" y="648.2" width="275.2" height="195.8" fill="#ebebeb"/>
<line x1="892.9" x2="1168.1" y1="806.97" y2="806.97" stroke="#fff" stroke-width="1.45"/>
<line x1="892.9" x2="1168.1" y1="749.91" y2="749.91" stroke="#fff" stroke-width="1.45"/>
<line x1="892.9" x2="1168.1" y1="692.85" y2="692.85" stroke="#fff" stroke-width="1.45"/>
<line x1="892.9" x2="1168.1" y1="835.5" y2="835.5" stroke="#fff" stroke-width="1.75"/>
<line x1="892.9" x2="1168.1" y1="778.44" y2="778.44" stroke="#fff" stroke-width="1.75"/>
<line x1="892.9" x2="1168.1" y1="721.38" y2="721.38" stroke="#fff" stroke-width="1.75"/>
<line x1="892.9" x2="1168.1" y1="664.32" y2="664.32" stroke="#fff" stroke-width="1.75"/>
<line x1="926.25" x2="926.25" y1="648.2" y2="844" stroke="#fff" stroke-width="1.45"/>
<line x1="1015.55" x2="1015.55" y1="648.2" y2="844" stroke="#fff" stroke-width="1.45"/>
<line x1="1104.85" x2="1104.85" y1="648.2" y2="844" stroke="#fff" stroke-width="1.45"/>
<line x1="970.9" x2="970.9" y1="648.2" y2="844" stroke="#fff" stroke-width="1.75"/>
<line x1="1060.2" x2="1060.2" y1="648.2" y2="844" stroke="#fff" stroke-width="1.75"/>
<line x1="1149.5" x2="1149.5" y1="648.2" y2="844" stroke="#fff" stroke-width="1.75"/>
<path d="M906.1,831 C907.23,831 910.93,830.55 912.9,831 C914.87,831.45 915.37,833.25 917.9,833.7 C920.43,834.15 926.02,833.88 928.1,833.7 C930.18,833.52 923.42,832.78 930.4,832.6 C937.38,832.42 961.7,833.17 970,832.6 C978.3,832.03 977,831.1 980.2,829.2 C983.4,827.3 986.75,824.23 989.2,821.2 C991.65,818.17 992.82,814.95 994.9,811 C996.98,807.05 999.43,801.27 1001.7,797.5 C1003.97,793.73 1006.05,791.43 1008.5,788.4 C1010.95,785.37 1013.95,782.5 1016.4,779.3 C1018.85,776.1 1021.02,772.6 1023.2,769.2 C1025.38,765.8 1027.5,763.27 1029.5,758.9 C1031.5,754.53 1033.5,748.28 1035.2,743 C1036.9,737.72 1038.38,732.85 1039.7,727.2 C1041.02,721.55 1041.97,715.13 1043.1,709.1 C1044.23,703.07 1045.37,696.67 1046.5,691 C1047.63,685.33 1048.77,679.25 1049.9,675.1 C1051.03,670.95 1051.98,668.73 1053.3,666.1 C1054.62,663.47 1056.48,660.73 1057.8,659.3 C1059.12,657.87 1060.07,657.5 1061.2,657.5 C1062.33,657.5 1063.47,658.05 1064.6,659.3 C1065.73,660.55 1066.87,662.37 1068,665 C1069.13,667.63 1070.27,670.77 1071.4,675.1 C1072.53,679.43 1073.67,685.72 1074.8,691 C1075.93,696.28 1077.07,701.9 1078.2,706.8 C1079.33,711.7 1080.28,715.87 1081.6,720.4 C1082.92,724.93 1084.6,730.23 1086.1,734 C1087.6,737.77 1089.1,739.62 1090.6,743 C1092.1,746.38 1093.58,750.15 1095.1,754.3 C1096.62,758.45 1098,763.37 1099.7,767.9 C1101.4,772.43 1103.42,777.35 1105.3,781.5 C1107.18,785.65 1108.92,789.03 1111,792.8 C1113.08,796.57 1115.55,800.9 1117.8,804.1 C1120.05,807.3 1122.43,809.92 1124.5,812 C1126.57,814.08 1127.93,815.65 1130.2,816.6 C1132.47,817.55 1135.65,816.95 1138.1,817.7 C1140.55,818.45 1142.82,819.97 1144.9,821.1 C1146.98,822.23 1148.9,823.18 1150.6,824.5 C1152.3,825.82 1154.35,828.25 1155.1,829" fill="none" stroke="#1a1a1a" stroke-width="1.35" stroke-linejoin="round" stroke-linecap="round"/>
</svg>
<rect x="38" y="0" width="274.8" height="1.2" fill="#e8e8e8"/>
<rect x="38" y="1.2" width="274.8" height="31.1" fill="#d9d9d9"/>
<text transform="translate(175.75,23.8) scale(1,1.13)" class="st" text-anchor="middle">BTC</text>
<rect x="322.9" y="0" width="275" height="1.2" fill="#e8e8e8"/>
<rect x="322.9" y="1.2" width="275" height="31.1" fill="#d9d9d9"/>
<text transform="translate(460.75,23.8) scale(1,1.13)" class="st" text-anchor="middle">ETH</text>
<rect x="607.75" y="0" width="275.45" height="1.2" fill="#e8e8e8"/>
<rect x="607.75" y="1.2" width="275.45" height="31.1" fill="#d9d9d9"/>
<text transform="translate(745.83,23.8) scale(1,1.13)" class="st" text-anchor="middle">XRP</text>
<rect x="892.9" y="0" width="275.2" height="1.2" fill="#e8e8e8"/>
<rect x="892.9" y="1.2" width="275.2" height="31.1" fill="#d9d9d9"/>
<text transform="translate(1030.85,23.8) scale(1,1.13)" class="st" text-anchor="middle">BNB</text>
<rect x="1168.1" y="32.3" width="30.7" height="195.3" fill="#d9d9d9"/>
<text transform="translate(1175.9,129.95) rotate(90) scale(1,1.13)" class="st" text-anchor="middle">BTC</text>
<rect x="1168.1" y="237.1" width="30.7" height="195.8" fill="#d9d9d9"/>
<text transform="translate(1175.9,335) rotate(90) scale(1,1.13)" class="st" text-anchor="middle">ETH</text>
<rect x="1168.1" y="442.5" width="30.7" height="196.4" fill="#d9d9d9"/>
<text transform="translate(1175.9,540.7) rotate(90) scale(1,1.13)" class="st" text-anchor="middle">XRP</text>
<rect x="1168.1" y="648.2" width="30.7" height="195.8" fill="#d9d9d9"/>
<text transform="translate(1175.9,746.1) rotate(90) scale(1,1.13)" class="st" text-anchor="middle">BNB</text>
<line x1="33.2" x2="38" y1="219" y2="219" stroke="#333" stroke-width="1.4"/>
<text transform="translate(29.6,225.7) scale(1,1.13)" class="ax" text-anchor="end">0.00</text>
<line x1="33.2" x2="38" y1="159.7" y2="159.7" stroke="#333" stroke-width="1.4"/>
<text transform="translate(29.6,166.4) scale(1,1.13)" class="ax" text-anchor="end">0.05</text>
<line x1="33.2" x2="38" y1="100.4" y2="100.4" stroke="#333" stroke-width="1.4"/>
<text transform="translate(29.6,107.1) scale(1,1.13)" class="ax" text-anchor="end">0.10</text>
<line x1="33.2" x2="38" y1="41.1" y2="41.1" stroke="#333" stroke-width="1.4"/>
<text transform="translate(29.6,47.8) scale(1,1.13)" class="ax" text-anchor="end">0.15</text>
<line x1="33.2" x2="38" y1="382.8" y2="382.8" stroke="#333" stroke-width="1.4"/>
<text transform="translate(29.6,389.5) scale(1,1.13)" class="ax" text-anchor="end">-10</text>
<line x1="33.2" x2="38" y1="331.4" y2="331.4" stroke="#333" stroke-width="1.4"/>
<text transform="translate(29.6,338.1) scale(1,1.13)" class="ax" text-anchor="end">0</text>
<line x1="33.2" x2="38" y1="280" y2="280" stroke="#333" stroke-width="1.4"/>
<text transform="translate(29.6,286.7) scale(1,1.13)" class="ax" text-anchor="end">10</text>
<line x1="33.2" x2="38" y1="623.02" y2="623.02" stroke="#333" stroke-width="1.4"/>
<text transform="translate(29.6,629.72) scale(1,1.13)" class="ax" text-anchor="end">-20</text>
<line x1="33.2" x2="38" y1="579.46" y2="579.46" stroke="#333" stroke-width="1.4"/>
<text transform="translate(29.6,586.16) scale(1,1.13)" class="ax" text-anchor="end">-10</text>
<line x1="33.2" x2="38" y1="535.9" y2="535.9" stroke="#333" stroke-width="1.4"/>
<text transform="translate(29.6,542.6) scale(1,1.13)" class="ax" text-anchor="end">0</text>
<line x1="33.2" x2="38" y1="492.34" y2="492.34" stroke="#333" stroke-width="1.4"/>
<text transform="translate(29.6,499.04) scale(1,1.13)" class="ax" text-anchor="end">10</text>
<line x1="33.2" x2="38" y1="448.78" y2="448.78" stroke="#333" stroke-width="1.4"/>
<text transform="translate(29.6,455.48) scale(1,1.13)" class="ax" text-anchor="end">20</text>
<line x1="33.2" x2="38" y1="789" y2="789" stroke="#333" stroke-width="1.4"/>
<text transform="translate(29.6,795.7) scale(1,1.13)" class="ax" text-anchor="end">-10</text>
<line x1="33.2" x2="38" y1="725.4" y2="725.4" stroke="#333" stroke-width="1.4"/>
<text transform="translate(29.6,732.1) scale(1,1.13)" class="ax" text-anchor="end">0</text>
<line x1="33.2" x2="38" y1="661.8" y2="661.8" stroke="#333" stroke-width="1.4"/>
<text transform="translate(29.6,668.5) scale(1,1.13)" class="ax" text-anchor="end">10</text>
<line x1="111.1" x2="111.1" y1="844" y2="848.8" stroke="#333" stroke-width="1.4"/>
<text transform="translate(110.5,866.2) scale(1,1.13)" class="ax" text-anchor="middle">-10</text>
<line x1="191.7" x2="191.7" y1="844" y2="848.8" stroke="#333" stroke-width="1.4"/>
<text transform="translate(191.1,866.2) scale(1,1.13)" class="ax" text-anchor="middle">0</text>
<line x1="272.3" x2="272.3" y1="844" y2="848.8" stroke="#333" stroke-width="1.4"/>
<text transform="translate(271.7,866.2) scale(1,1.13)" class="ax" text-anchor="middle">10</text>
<line x1="394.75" x2="394.75" y1="844" y2="848.8" stroke="#333" stroke-width="1.4"/>
<text transform="translate(394.15,866.2) scale(1,1.13)" class="ax" text-anchor="middle">-10</text>
<line x1="467.05" x2="467.05" y1="844" y2="848.8" stroke="#333" stroke-width="1.4"/>
<text transform="translate(466.45,866.2) scale(1,1.13)" class="ax" text-anchor="middle">0</text>
<line x1="539.35" x2="539.35" y1="844" y2="848.8" stroke="#333" stroke-width="1.4"/>
<text transform="translate(538.75,866.2) scale(1,1.13)" class="ax" text-anchor="middle">10</text>
<line x1="632" x2="632" y1="844" y2="848.8" stroke="#333" stroke-width="1.4"/>
<text transform="translate(631.4,866.2) scale(1,1.13)" class="ax" text-anchor="middle">-20</text>
<line x1="693.2" x2="693.2" y1="844" y2="848.8" stroke="#333" stroke-width="1.4"/>
<text transform="translate(692.6,866.2) scale(1,1.13)" class="ax" text-anchor="middle">-10</text>
<line x1="754.4" x2="754.4" y1="844" y2="848.8" stroke="#333" stroke-width="1.4"/>
<text transform="translate(753.8,866.2) scale(1,1.13)" class="ax" text-anchor="middle">0</text>
<line x1="815.6" x2="815.6" y1="844" y2="848.8" stroke="#333" stroke-width="1.4"/>
<text transform="translate(815,866.2) scale(1,1.13)" class="ax" text-anchor="middle">10</text>
<line x1="876.8" x2="876.8" y1="844" y2="848.8" stroke="#333" stroke-width="1.4"/>
<text transform="translate(876.2,866.2) scale(1,1.13)" class="ax" text-anchor="middle">20</text>
<line x1="970.9" x2="970.9" y1="844" y2="848.8" stroke="#333" stroke-width="1.4"/>
<text transform="translate(970.3,866.2) scale(1,1.13)" class="ax" text-anchor="middle">-10</text>
<line x1="1060.2" x2="1060.2" y1="844" y2="848.8" stroke="#333" stroke-width="1.4"/>
<text transform="translate(1059.6,866.2) scale(1,1.13)" class="ax" text-anchor="middle">0</text>
<line x1="1149.5" x2="1149.5" y1="844" y2="848.8" stroke="#333" stroke-width="1.4"/>
<text transform="translate(1148.9,866.2) scale(1,1.13)" class="ax" text-anchor="middle">10</text>
</svg>
</body></html>
